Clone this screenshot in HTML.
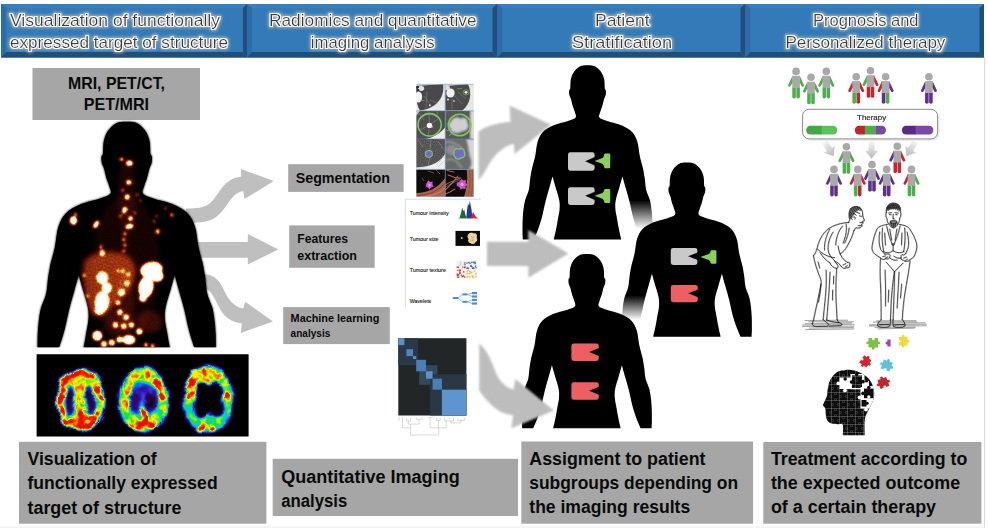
<!DOCTYPE html>
<html><head><meta charset="utf-8"><title>Radiomics workflow</title>
<style>
html,body{margin:0;padding:0;background:#fff;}
body{width:988px;height:531px;overflow:hidden;position:relative;font-family:"Liberation Sans",sans-serif;}
svg{position:absolute;left:0;top:0;display:block;}
text{font-family:"Liberation Sans",sans-serif;}
.lb{font-weight:bold;fill:#0a0a0a;}
.hd{fill:#3a3a3a;}
</style></head><body>
<svg width="988" height="531" viewBox="0 0 988 531">
<defs>
<filter id="glow" x="-10%" y="-40%" width="120%" height="180%">
  <feMorphology in="SourceAlpha" operator="dilate" radius="2" result="d2"/>
  <feGaussianBlur in="d2" stdDeviation="1.6" result="b2"/>
  <feFlood flood-color="#bcc0ba" flood-opacity="0.8"/>
  <feComposite in2="b2" operator="in" result="g2"/>
  <feMorphology in="SourceAlpha" operator="dilate" radius="0.9" result="d1"/>
  <feGaussianBlur in="d1" stdDeviation="0.4" result="b1"/>
  <feFlood flood-color="#ffffff" flood-opacity="1"/>
  <feComposite in2="b1" operator="in" result="g1"/>
  <feMerge><feMergeNode in="g2"/><feMergeNode in="g1"/><feMergeNode in="SourceGraphic"/></feMerge>
</filter>
</defs>
<rect x="0" y="0" width="988" height="531" fill="#ffffff"/>
<!-- frame hairlines -->
<rect x="984" y="57" width="1" height="471" fill="#dadada"/>
<rect x="0" y="526.6" width="985" height="1" fill="#ececec"/>
<!-- HEADERS -->
<g id="headers">
  <!-- h1 -->
  <g>
    <rect x="1" y="4" width="246" height="53.6" fill="#337ab8"/>
    <polygon points="1,4 247,4 243,8 6,8" fill="#3780c0"/>
    <polygon points="1,4 6,8 6,52 1,57.6" fill="#2d6ca8"/>
    <polygon points="247,4 247,57.6 243,52 243,8" fill="#1f4e7a"/>
    <polygon points="1,57.6 6,52 243,52 247,57.6" fill="#1f4e7a"/>
  </g>
  <g>
    <rect x="247" y="4" width="250" height="53.6" fill="#337ab8"/>
    <polygon points="247,4 497,4 493,8 252,8" fill="#3780c0"/>
    <polygon points="247,4 252,8 252,52 247,57.6" fill="#2d6ca8"/>
    <polygon points="497,4 497,57.6 492.5,52 492.5,8" fill="#1f4e7a"/>
    <polygon points="247,57.6 252,52 492.5,52 497,57.6" fill="#1f4e7a"/>
  </g>
  <g>
    <rect x="497" y="4" width="248" height="53.6" fill="#337ab8"/>
    <polygon points="497,4 745,4 741,8 502.5,8" fill="#3780c0"/>
    <polygon points="497,4 502.5,8 502.5,52 497,57.6" fill="#2d6ca8"/>
    <polygon points="745,4 745,57.6 740.5,52 740.5,8" fill="#1f4e7a"/>
    <polygon points="497,57.6 502.5,52 740.5,52 745,57.6" fill="#1f4e7a"/>
  </g>
  <g>
    <rect x="745" y="4" width="239" height="53.6" fill="#337ab8"/>
    <polygon points="745,4 984,4 980,8 750.5,8" fill="#3780c0"/>
    <polygon points="745,4 750.5,8 750.5,52 745,57.6" fill="#2d6ca8"/>
    <polygon points="984,4 984,57.6 979.5,52 979.5,8" fill="#1f4e7a"/>
    <polygon points="745,57.6 750.5,52 979.5,52 984,57.6" fill="#1f4e7a"/>
  </g>
  <g filter="url(#glow)" font-size="15.7">
    <text class="hd" x="10" y="26.1" textLength="210" lengthAdjust="spacingAndGlyphs">Visualization of functionally</text>
    <text class="hd" x="10" y="48.1" textLength="218" lengthAdjust="spacingAndGlyphs">expressed target of structure</text>
    <text class="hd" x="269" y="26.1" textLength="207.5" lengthAdjust="spacingAndGlyphs">Radiomics and quantitative</text>
    <text class="hd" x="310.7" y="48.1" textLength="124" lengthAdjust="spacingAndGlyphs">imaging analysis</text>
    <text class="hd" x="595" y="26.1" textLength="54.5" lengthAdjust="spacingAndGlyphs">Patient</text>
    <text class="hd" x="572" y="48.1" textLength="100" lengthAdjust="spacingAndGlyphs">Stratification</text>
    <text class="hd" x="813" y="26.1" textLength="105.5" lengthAdjust="spacingAndGlyphs">Prognosis and</text>
    <text class="hd" x="785.4" y="48.1" textLength="160" lengthAdjust="spacingAndGlyphs">Personalized therapy</text>
  </g>
</g>
<!-- GRAY LABEL BOXES -->
<g id="labels">
  <rect x="32.5" y="68" width="167.5" height="52" fill="#a6a6a6"/>
  <text class="lb" font-size="15.9" x="68" y="88.6" textLength="97" lengthAdjust="spacingAndGlyphs">MRI, PET/CT,</text>
  <text class="lb" font-size="15.9" x="83.8" y="110" textLength="65.2" lengthAdjust="spacingAndGlyphs">PET/MRI</text>

  <rect x="288.2" y="164.2" width="115.4" height="27.7" fill="#a6a6a6"/>
  <text class="lb" font-size="14.8" x="295.7" y="183.4" textLength="94.3" lengthAdjust="spacingAndGlyphs">Segmentation</text>

  <rect x="289.2" y="225.4" width="85.5" height="42.4" fill="#a6a6a6"/>
  <text class="lb" font-size="12.4" x="297.3" y="242.7" textLength="50.7" lengthAdjust="spacingAndGlyphs">Features</text>
  <text class="lb" font-size="12.4" x="297.3" y="260.1" textLength="59.7" lengthAdjust="spacingAndGlyphs">extraction</text>

  <rect x="283.2" y="307.1" width="106.6" height="37" fill="#a6a6a6"/>
  <text class="lb" font-size="10.7" x="290.6" y="321.9" textLength="88.7" lengthAdjust="spacingAndGlyphs">Machine learning</text>
  <text class="lb" font-size="10.7" x="290.6" y="337" textLength="39.7" lengthAdjust="spacingAndGlyphs">analysis</text>

  <rect x="19" y="441.8" width="247.4" height="81.9" fill="#a6a6a6"/>
  <text class="lb" font-size="17.6" x="27.5" y="464.7" textLength="129.2" lengthAdjust="spacingAndGlyphs">Visualization of</text>
  <text class="lb" font-size="17.6" x="27.5" y="489.1" textLength="190.1" lengthAdjust="spacingAndGlyphs">functionally expressed</text>
  <text class="lb" font-size="17.6" x="27.5" y="513.6" textLength="153.9" lengthAdjust="spacingAndGlyphs">target of structure</text>

  <rect x="272.7" y="458.8" width="245.3" height="57.2" fill="#a6a6a6"/>
  <text class="lb" font-size="17.6" x="281.2" y="482.6" textLength="178.5" lengthAdjust="spacingAndGlyphs">Quantitative Imaging</text>
  <text class="lb" font-size="17.6" x="281.2" y="506.7" textLength="66" lengthAdjust="spacingAndGlyphs">analysis</text>

  <rect x="521.3" y="441.5" width="231.8" height="82.2" fill="#a6a6a6"/>
  <text class="lb" font-size="17.6" x="529.3" y="464.7" textLength="176.2" lengthAdjust="spacingAndGlyphs">Assigment to patient</text>
  <text class="lb" font-size="17.6" x="529.3" y="489.1" textLength="208.8" lengthAdjust="spacingAndGlyphs">subgroups depending on</text>
  <text class="lb" font-size="17.6" x="529.3" y="513.4" textLength="160.9" lengthAdjust="spacingAndGlyphs">the imaging results</text>

  <rect x="763.3" y="442" width="218.1" height="81.7" fill="#a6a6a6"/>
  <text class="lb" font-size="17.6" x="770.9" y="464.7" textLength="196.4" lengthAdjust="spacingAndGlyphs">Treatment according to</text>
  <text class="lb" font-size="17.6" x="770.9" y="489.1" textLength="189.3" lengthAdjust="spacingAndGlyphs">the expected outcome</text>
  <text class="lb" font-size="17.6" x="770.9" y="513.4" textLength="165.2" lengthAdjust="spacingAndGlyphs">of a certain therapy</text>
</g>
<!-- SMALL ARROWS (behind body) -->
<g id="smallarrows" fill="#bfbfbf" filter="url(#soft2)">
  <path d="M186,208.5 C196,208.6 203,208 209,204 C216,199 220,187 229,181 C232.5,178.6 236.5,177.3 241.2,176.6 L241,169 L273.8,181 L244.5,199 L243.4,191.2 C238,192 235.5,194 232,198 C226,205 222,214 213,219 C206,222.6 197,222.8 186,222.8 Z"/>
  <path d="M192,242 L247.8,242 L247.8,234 L278.3,249.4 L247.8,264.6 L247.8,257.8 L192,257.8 Z"/>
  <path d="M196,273.6 C204,273.6 211,274.6 216,278.4 C222,283 224,292 229,299 C232.6,304 236.8,307 243.2,308.6 L245.2,301.8 L273,321.5 L240.8,332.9 L241.8,323.2 C235,322.6 229,320 224.6,315.4 C219,309.6 216,299 211,293 C207,288.4 202,285 196,283.8 Z"/>
</g>
<!-- PET BODY -->
<defs>
<clipPath id="bodyclip"><path d="M587.5,65.3C589.9,65.3 592.5,65.2 594.7,66.2C596.9,67.2 599.3,69.4 600.8,71.5C602.4,73.6 603.4,76.2 604.1,79.0C604.8,81.8 604.5,86.6 604.8,88.5C605.1,90.4 605.7,89.2 605.8,90.2C606.0,91.2 606.0,93.3 605.7,94.8C605.5,96.3 604.7,97.1 604.1,99.0C603.5,100.9 602.9,103.8 602.3,106.0C601.6,108.2 600.7,110.1 600.2,112.0C599.7,113.9 598.3,116.0 599.4,117.5C600.5,119.0 603.2,119.7 607.0,121.0C610.8,122.3 617.9,123.7 622.0,125.5C626.2,127.3 629.5,129.3 632.1,132.0C634.6,134.7 636.0,137.5 637.3,141.5C638.6,145.5 638.9,151.6 639.8,156.0C640.7,160.4 642.0,164.3 642.9,168.0C643.7,171.7 644.1,174.3 644.7,178.0C645.3,181.7 645.3,186.2 646.2,190.0C647.1,193.8 649.1,197.0 650.0,200.5C650.9,204.0 651.3,207.6 651.7,211.0C652.1,214.4 652.2,217.5 652.4,221.0C652.5,224.5 652.5,228.9 652.5,232.0C652.5,235.1 652.2,238.2 652.2,239.4C650.3,239.4 643.0,239.4 641.1,239.4C640.4,237.7 638.2,232.7 636.8,229.0C635.5,225.3 634.2,221.5 633.0,217.0C631.8,212.5 630.8,206.8 629.6,202.0C628.4,197.2 626.9,192.2 625.7,188.0C624.5,183.8 623.0,178.4 622.5,176.5C622.0,178.2 620.6,183.1 619.5,187.0C618.4,190.9 616.5,196.3 615.8,200.0C615.1,203.7 615.2,206.0 615.4,209.0C615.6,212.0 616.3,214.7 616.9,218.0C617.5,221.3 618.1,225.4 618.9,229.0C619.6,232.6 620.8,237.7 621.2,239.4C610.0,239.4 565.0,239.4 553.8,239.4C554.2,237.7 555.4,232.6 556.1,229.0C556.9,225.4 557.5,221.3 558.1,218.0C558.7,214.7 559.4,212.0 559.6,209.0C559.8,206.0 559.9,203.7 559.2,200.0C558.5,196.3 556.6,190.9 555.5,187.0C554.4,183.1 553.0,178.2 552.5,176.5C552.0,178.4 550.5,183.8 549.3,188.0C548.1,192.2 546.6,197.2 545.4,202.0C544.2,206.8 543.2,212.5 542.0,217.0C540.8,221.5 539.5,225.3 538.2,229.0C536.8,232.7 534.6,237.7 533.9,239.4C532.0,239.4 524.7,239.4 522.8,239.4C522.8,238.2 522.5,235.1 522.5,232.0C522.5,228.9 522.5,224.5 522.6,221.0C522.8,217.5 522.9,214.4 523.3,211.0C523.7,207.6 524.1,204.0 525.0,200.5C525.9,197.0 527.9,193.8 528.8,190.0C529.7,186.2 529.7,181.7 530.3,178.0C530.9,174.3 531.3,171.7 532.1,168.0C533.0,164.3 534.3,160.4 535.2,156.0C536.1,151.6 536.4,145.5 537.7,141.5C539.0,137.5 540.4,134.7 542.9,132.0C545.5,129.3 548.8,127.3 553.0,125.5C557.1,123.7 564.2,122.3 568.0,121.0C571.8,119.7 574.5,119.0 575.6,117.5C576.7,116.0 575.3,113.9 574.8,112.0C574.3,110.1 573.4,108.2 572.7,106.0C572.1,103.8 571.5,100.9 570.9,99.0C570.3,97.1 569.5,96.3 569.3,94.8C569.0,93.3 569.0,91.2 569.2,90.2C569.3,89.2 569.9,90.4 570.2,88.5C570.5,86.6 570.2,81.8 570.9,79.0C571.6,76.2 572.6,73.6 574.2,71.5C575.7,69.4 578.1,67.2 580.3,66.2C582.5,65.2 585.1,65.3 587.5,65.3Z" transform="translate(-679.35,31.82) scale(1.372,1.378)"/></clipPath>
<clipPath id="bodycut"><rect x="20" y="100" width="230" height="247.2"/></clipPath>
<filter id="hot" x="0" y="0" width="100%" height="100%" color-interpolation-filters="sRGB" filterUnits="userSpaceOnUse" primitiveUnits="userSpaceOnUse">
 <feGaussianBlur stdDeviation="0.9" result="b"/>
 <feTurbulence type="fractalNoise" baseFrequency="0.55" numOctaves="2" seed="7" result="n"/>
 <feColorMatrix in="n" type="matrix" values="1.6 0 0 0 -0.25  1.6 0 0 0 -0.25  1.6 0 0 0 -0.25  0 0 0 0 1" result="na"/>
 <feComposite in="b" in2="na" operator="arithmetic" k1="0.5" k2="0.98" k3="0" k4="0" result="t"/>
 <feColorMatrix in="t" type="matrix" values="1 0 0 0 0  1 0 0 0 0  1 0 0 0 0  0 0 0 0 1" result="m"/>
 <feComponentTransfer in="m">
  <feFuncR type="table" tableValues="0 0.36 0.66 0.95 1 1"/>
  <feFuncG type="table" tableValues="0 0.07 0.22 0.55 0.9 1"/>
  <feFuncB type="table" tableValues="0 0.03 0.07 0.14 0.5 1"/>
 </feComponentTransfer>
</filter>
<filter id="hz" x="-20%" y="-20%" width="140%" height="140%"><feGaussianBlur stdDeviation="2.2"/></filter>
</defs>
<g clip-path="url(#bodycut)">
<path d="M587.5,65.3C589.9,65.3 592.5,65.2 594.7,66.2C596.9,67.2 599.3,69.4 600.8,71.5C602.4,73.6 603.4,76.2 604.1,79.0C604.8,81.8 604.5,86.6 604.8,88.5C605.1,90.4 605.7,89.2 605.8,90.2C606.0,91.2 606.0,93.3 605.7,94.8C605.5,96.3 604.7,97.1 604.1,99.0C603.5,100.9 602.9,103.8 602.3,106.0C601.6,108.2 600.7,110.1 600.2,112.0C599.7,113.9 598.3,116.0 599.4,117.5C600.5,119.0 603.2,119.7 607.0,121.0C610.8,122.3 617.9,123.7 622.0,125.5C626.2,127.3 629.5,129.3 632.1,132.0C634.6,134.7 636.0,137.5 637.3,141.5C638.6,145.5 638.9,151.6 639.8,156.0C640.7,160.4 642.0,164.3 642.9,168.0C643.7,171.7 644.1,174.3 644.7,178.0C645.3,181.7 645.3,186.2 646.2,190.0C647.1,193.8 649.1,197.0 650.0,200.5C650.9,204.0 651.3,207.6 651.7,211.0C652.1,214.4 652.2,217.5 652.4,221.0C652.5,224.5 652.5,228.9 652.5,232.0C652.5,235.1 652.2,238.2 652.2,239.4C650.3,239.4 643.0,239.4 641.1,239.4C640.4,237.7 638.2,232.7 636.8,229.0C635.5,225.3 634.2,221.5 633.0,217.0C631.8,212.5 630.8,206.8 629.6,202.0C628.4,197.2 626.9,192.2 625.7,188.0C624.5,183.8 623.0,178.4 622.5,176.5C622.0,178.2 620.6,183.1 619.5,187.0C618.4,190.9 616.5,196.3 615.8,200.0C615.1,203.7 615.2,206.0 615.4,209.0C615.6,212.0 616.3,214.7 616.9,218.0C617.5,221.3 618.1,225.4 618.9,229.0C619.6,232.6 620.8,237.7 621.2,239.4C610.0,239.4 565.0,239.4 553.8,239.4C554.2,237.7 555.4,232.6 556.1,229.0C556.9,225.4 557.5,221.3 558.1,218.0C558.7,214.7 559.4,212.0 559.6,209.0C559.8,206.0 559.9,203.7 559.2,200.0C558.5,196.3 556.6,190.9 555.5,187.0C554.4,183.1 553.0,178.2 552.5,176.5C552.0,178.4 550.5,183.8 549.3,188.0C548.1,192.2 546.6,197.2 545.4,202.0C544.2,206.8 543.2,212.5 542.0,217.0C540.8,221.5 539.5,225.3 538.2,229.0C536.8,232.7 534.6,237.7 533.9,239.4C532.0,239.4 524.7,239.4 522.8,239.4C522.8,238.2 522.5,235.1 522.5,232.0C522.5,228.9 522.5,224.5 522.6,221.0C522.8,217.5 522.9,214.4 523.3,211.0C523.7,207.6 524.1,204.0 525.0,200.5C525.9,197.0 527.9,193.8 528.8,190.0C529.7,186.2 529.7,181.7 530.3,178.0C530.9,174.3 531.3,171.7 532.1,168.0C533.0,164.3 534.3,160.4 535.2,156.0C536.1,151.6 536.4,145.5 537.7,141.5C539.0,137.5 540.4,134.7 542.9,132.0C545.5,129.3 548.8,127.3 553.0,125.5C557.1,123.7 564.2,122.3 568.0,121.0C571.8,119.7 574.5,119.0 575.6,117.5C576.7,116.0 575.3,113.9 574.8,112.0C574.3,110.1 573.4,108.2 572.7,106.0C572.1,103.8 571.5,100.9 570.9,99.0C570.3,97.1 569.5,96.3 569.3,94.8C569.0,93.3 569.0,91.2 569.2,90.2C569.3,89.2 569.9,90.4 570.2,88.5C570.5,86.6 570.2,81.8 570.9,79.0C571.6,76.2 572.6,73.6 574.2,71.5C575.7,69.4 578.1,67.2 580.3,66.2C582.5,65.2 585.1,65.3 587.5,65.3Z" transform="translate(-679.35,31.82) scale(1.372,1.378)" fill="#050303" filter="url(#soft2)"/>
<g clip-path="url(#bodyclip)"><g filter="url(#hot)">
<rect x="20" y="100" width="230" height="260" fill="#000"/>
<g filter="url(#hz)">
<ellipse cx="126" cy="265" rx="34" ry="70" fill="#fff" opacity="0.035"/>
<ellipse cx="127" cy="195" rx="9" ry="38" fill="#fff" opacity="0.05"/>
<path d="M84,262 C90,252 110,250 124,254 C134,258 138,268 134,280 C130,292 118,300 108,312 C100,320 92,318 88,306 C84,292 82,274 84,262Z" fill="#fff" opacity="0.27"/>
<ellipse cx="150" cy="322" rx="13" ry="11" fill="#fff" opacity="0.1"/>
<ellipse cx="118" cy="324" rx="15" ry="13" fill="#fff" opacity="0.08"/>
<ellipse cx="126" cy="300" rx="8" ry="30" fill="#fff" opacity="0.07"/>
</g>
<ellipse cx="121.5" cy="159.3" rx="2.3" ry="2.2" fill="#fff" opacity="0.24"/>
<ellipse cx="121.5" cy="159.3" rx="1.4" ry="1.3" fill="#fff" opacity="0.73"/>
<ellipse cx="129.4" cy="163.2" rx="3.7" ry="3.1" fill="#fff" opacity="0.32"/>
<ellipse cx="129.4" cy="163.2" rx="2.8" ry="2.2" fill="#fff" opacity="0.97"/>
<ellipse cx="128.8" cy="182.3" rx="3.0" ry="2.8" fill="#fff" opacity="0.32"/>
<ellipse cx="128.8" cy="182.3" rx="2.1" ry="1.9" fill="#fff" opacity="0.97"/>
<ellipse cx="122.7" cy="190.2" rx="1.9" ry="1.9" fill="#fff" opacity="0.18"/>
<ellipse cx="122.7" cy="190.2" rx="1.0" ry="1.0" fill="#fff" opacity="0.53"/>
<ellipse cx="127.2" cy="197" rx="2.8" ry="3.1" fill="#fff" opacity="0.32"/>
<ellipse cx="127.2" cy="197" rx="1.9" ry="2.2" fill="#fff" opacity="0.97"/>
<ellipse cx="137.3" cy="194.7" rx="1.9" ry="1.9" fill="#fff" opacity="0.13"/>
<ellipse cx="137.3" cy="194.7" rx="1.0" ry="1.0" fill="#fff" opacity="0.39"/>
<ellipse cx="140.7" cy="200.4" rx="1.8" ry="1.8" fill="#fff" opacity="0.11"/>
<ellipse cx="140.7" cy="200.4" rx="0.9" ry="0.9" fill="#fff" opacity="0.34"/>
<ellipse cx="124.9" cy="209.4" rx="2.9" ry="2.9" fill="#fff" opacity="0.32"/>
<ellipse cx="124.9" cy="209.4" rx="2.0" ry="2.0" fill="#fff" opacity="0.97"/>
<ellipse cx="120.4" cy="216.2" rx="2.0" ry="2.0" fill="#fff" opacity="0.16"/>
<ellipse cx="120.4" cy="216.2" rx="1.1" ry="1.1" fill="#fff" opacity="0.48"/>
<ellipse cx="130.6" cy="218.5" rx="2.6" ry="2.8" fill="#fff" opacity="0.32"/>
<ellipse cx="130.6" cy="218.5" rx="1.7" ry="1.9" fill="#fff" opacity="0.97"/>
<ellipse cx="135" cy="212.8" rx="1.9" ry="1.9" fill="#fff" opacity="0.14"/>
<ellipse cx="135" cy="212.8" rx="1.0" ry="1.0" fill="#fff" opacity="0.44"/>
<ellipse cx="129.4" cy="226.4" rx="4.5" ry="2.8" fill="#fff" opacity="0.32" transform="rotate(-15 129.4 226.4)"/>
<ellipse cx="129.4" cy="226.4" rx="3.6" ry="1.9" fill="#fff" opacity="0.97" transform="rotate(-15 129.4 226.4)"/>
<ellipse cx="73.5" cy="220.5" rx="4.0" ry="4.7" fill="#fff" opacity="0.32"/>
<ellipse cx="73.5" cy="220.5" rx="3.1" ry="3.8" fill="#fff" opacity="0.97"/>
<ellipse cx="75.5" cy="214.5" rx="1.9" ry="2.2" fill="#fff" opacity="0.22"/>
<ellipse cx="75.5" cy="214.5" rx="1.0" ry="1.3" fill="#fff" opacity="0.68"/>
<ellipse cx="96.2" cy="224.4" rx="2.6" ry="4.5" fill="#fff" opacity="0.32" transform="rotate(35 96.2 224.4)"/>
<ellipse cx="96.2" cy="224.4" rx="1.7" ry="3.6" fill="#fff" opacity="0.97" transform="rotate(35 96.2 224.4)"/>
<ellipse cx="165.6" cy="208.3" rx="1.9" ry="1.9" fill="#fff" opacity="0.11"/>
<ellipse cx="165.6" cy="208.3" rx="1.0" ry="1.0" fill="#fff" opacity="0.34"/>
<ellipse cx="171.9" cy="215" rx="2.3" ry="2.3" fill="#fff" opacity="0.18"/>
<ellipse cx="171.9" cy="215" rx="1.4" ry="1.4" fill="#fff" opacity="0.53"/>
<ellipse cx="156.6" cy="216.2" rx="1.9" ry="1.9" fill="#fff" opacity="0.11"/>
<ellipse cx="156.6" cy="216.2" rx="1.0" ry="1.0" fill="#fff" opacity="0.34"/>
<ellipse cx="154.3" cy="221.3" rx="1.9" ry="1.9" fill="#fff" opacity="0.13"/>
<ellipse cx="154.3" cy="221.3" rx="1.0" ry="1.0" fill="#fff" opacity="0.39"/>
<ellipse cx="157.7" cy="231.5" rx="2.6" ry="3.0" fill="#fff" opacity="0.22"/>
<ellipse cx="157.7" cy="231.5" rx="1.7" ry="2.1" fill="#fff" opacity="0.68"/>
<ellipse cx="123.8" cy="212.3" rx="2.2" ry="2.2" fill="#fff" opacity="0.22"/>
<ellipse cx="123.8" cy="212.3" rx="1.3" ry="1.3" fill="#fff" opacity="0.68"/>
<ellipse cx="124.9" cy="233.7" rx="2.2" ry="2.4" fill="#fff" opacity="0.19"/>
<ellipse cx="124.9" cy="233.7" rx="1.3" ry="1.5" fill="#fff" opacity="0.58"/>
<ellipse cx="123.8" cy="239.4" rx="2.2" ry="2.4" fill="#fff" opacity="0.19"/>
<ellipse cx="123.8" cy="239.4" rx="1.3" ry="1.5" fill="#fff" opacity="0.58"/>
<ellipse cx="124.9" cy="245" rx="2.2" ry="2.4" fill="#fff" opacity="0.18"/>
<ellipse cx="124.9" cy="245" rx="1.3" ry="1.5" fill="#fff" opacity="0.53"/>
<ellipse cx="123.8" cy="250.7" rx="2.1" ry="2.3" fill="#fff" opacity="0.16"/>
<ellipse cx="123.8" cy="250.7" rx="1.2" ry="1.4" fill="#fff" opacity="0.48"/>
<ellipse cx="102.3" cy="252.9" rx="3.0" ry="3.3" fill="#fff" opacity="0.3"/>
<ellipse cx="102.3" cy="252.9" rx="2.1" ry="2.4" fill="#fff" opacity="0.92"/>
<ellipse cx="101" cy="247" rx="1.9" ry="2.6" fill="#fff" opacity="0.19"/>
<ellipse cx="101" cy="247" rx="1.0" ry="1.7" fill="#fff" opacity="0.58"/>
<ellipse cx="151.5" cy="270" rx="11.7" ry="8.6" fill="#fff" opacity="0.32" transform="rotate(-10 151.5 270)"/>
<ellipse cx="151.5" cy="270" rx="10.8" ry="7.7" fill="#fff" opacity="0.97" transform="rotate(-10 151.5 270)"/>
<ellipse cx="146" cy="287" rx="7.8" ry="11.7" fill="#fff" opacity="0.32" transform="rotate(10 146 287)"/>
<ellipse cx="146" cy="287" rx="6.9" ry="10.8" fill="#fff" opacity="0.97" transform="rotate(10 146 287)"/>
<ellipse cx="143" cy="298" rx="4.3" ry="4.3" fill="#fff" opacity="0.29"/>
<ellipse cx="143" cy="298" rx="3.4" ry="3.4" fill="#fff" opacity="0.87"/>
<ellipse cx="157" cy="276" rx="6.9" ry="6.1" fill="#fff" opacity="0.32"/>
<ellipse cx="157" cy="276" rx="6.0" ry="5.2" fill="#fff" opacity="0.97"/>
<ellipse cx="102.3" cy="277.8" rx="6.1" ry="6.5" fill="#fff" opacity="0.32"/>
<ellipse cx="102.3" cy="277.8" rx="5.2" ry="5.6" fill="#fff" opacity="0.97"/>
<ellipse cx="106.8" cy="288" rx="5.2" ry="5.6" fill="#fff" opacity="0.32"/>
<ellipse cx="106.8" cy="288" rx="4.3" ry="4.7" fill="#fff" opacity="0.97"/>
<ellipse cx="102" cy="302" rx="7.4" ry="11.2" fill="#fff" opacity="0.32" transform="rotate(5 102 302)"/>
<ellipse cx="102" cy="302" rx="6.5" ry="10.3" fill="#fff" opacity="0.97" transform="rotate(5 102 302)"/>
<ellipse cx="99.5" cy="310" rx="5.2" ry="5.2" fill="#fff" opacity="0.32"/>
<ellipse cx="99.5" cy="310" rx="4.3" ry="4.3" fill="#fff" opacity="0.97"/>
<ellipse cx="122.7" cy="271" rx="2.3" ry="2.3" fill="#fff" opacity="0.26"/>
<ellipse cx="122.7" cy="271" rx="1.4" ry="1.4" fill="#fff" opacity="0.78"/>
<ellipse cx="128.3" cy="274.4" rx="2.3" ry="2.3" fill="#fff" opacity="0.26"/>
<ellipse cx="128.3" cy="274.4" rx="1.4" ry="1.4" fill="#fff" opacity="0.78"/>
<ellipse cx="118" cy="271" rx="2.1" ry="2.1" fill="#fff" opacity="0.19"/>
<ellipse cx="118" cy="271" rx="1.2" ry="1.2" fill="#fff" opacity="0.58"/>
<ellipse cx="127.2" cy="283.4" rx="2.8" ry="2.8" fill="#fff" opacity="0.3"/>
<ellipse cx="127.2" cy="283.4" rx="1.9" ry="1.9" fill="#fff" opacity="0.92"/>
<ellipse cx="121.5" cy="292.5" rx="3.7" ry="3.7" fill="#fff" opacity="0.32"/>
<ellipse cx="121.5" cy="292.5" rx="2.8" ry="2.8" fill="#fff" opacity="0.97"/>
<ellipse cx="84.2" cy="275.5" rx="2.1" ry="2.3" fill="#fff" opacity="0.19"/>
<ellipse cx="84.2" cy="275.5" rx="1.2" ry="1.4" fill="#fff" opacity="0.58"/>
<ellipse cx="87.6" cy="295.9" rx="2.0" ry="2.2" fill="#fff" opacity="0.18"/>
<ellipse cx="87.6" cy="295.9" rx="1.1" ry="1.3" fill="#fff" opacity="0.53"/>
<ellipse cx="118.1" cy="302.7" rx="2.8" ry="2.8" fill="#fff" opacity="0.29"/>
<ellipse cx="118.1" cy="302.7" rx="1.9" ry="1.9" fill="#fff" opacity="0.87"/>
<ellipse cx="119.9" cy="312.2" rx="3.1" ry="3.1" fill="#fff" opacity="0.32"/>
<ellipse cx="119.9" cy="312.2" rx="2.2" ry="2.2" fill="#fff" opacity="0.97"/>
<ellipse cx="126.1" cy="317.2" rx="3.1" ry="3.1" fill="#fff" opacity="0.32"/>
<ellipse cx="126.1" cy="317.2" rx="2.2" ry="2.2" fill="#fff" opacity="0.97"/>
<ellipse cx="115.5" cy="325" rx="3.1" ry="3.3" fill="#fff" opacity="0.32"/>
<ellipse cx="115.5" cy="325" rx="2.2" ry="2.4" fill="#fff" opacity="0.97"/>
<ellipse cx="123.7" cy="326.2" rx="3.1" ry="3.1" fill="#fff" opacity="0.32"/>
<ellipse cx="123.7" cy="326.2" rx="2.2" ry="2.2" fill="#fff" opacity="0.97"/>
<ellipse cx="131.5" cy="325" rx="3.1" ry="3.1" fill="#fff" opacity="0.32"/>
<ellipse cx="131.5" cy="325" rx="2.2" ry="2.2" fill="#fff" opacity="0.97"/>
<ellipse cx="139.3" cy="331.5" rx="3.5" ry="3.5" fill="#fff" opacity="0.32"/>
<ellipse cx="139.3" cy="331.5" rx="2.6" ry="2.6" fill="#fff" opacity="0.97"/>
<ellipse cx="97.3" cy="335.8" rx="5.4" ry="5.4" fill="#fff" opacity="0.32"/>
<ellipse cx="97.3" cy="335.8" rx="4.5" ry="4.5" fill="#fff" opacity="0.97"/>
<ellipse cx="128.9" cy="339.8" rx="6.9" ry="5.2" fill="#fff" opacity="0.32"/>
<ellipse cx="128.9" cy="339.8" rx="6.0" ry="4.3" fill="#fff" opacity="0.97"/>
<ellipse cx="119.7" cy="339.6" rx="3.5" ry="3.5" fill="#fff" opacity="0.32"/>
<ellipse cx="119.7" cy="339.6" rx="2.6" ry="2.6" fill="#fff" opacity="0.97"/>
<ellipse cx="111.8" cy="342.5" rx="3.5" ry="3.5" fill="#fff" opacity="0.3"/>
<ellipse cx="111.8" cy="342.5" rx="2.6" ry="2.6" fill="#fff" opacity="0.92"/>
<ellipse cx="146" cy="344.8" rx="2.4" ry="2.4" fill="#fff" opacity="0.26"/>
<ellipse cx="146" cy="344.8" rx="1.5" ry="1.5" fill="#fff" opacity="0.78"/>
<ellipse cx="152.7" cy="346" rx="2.4" ry="2.4" fill="#fff" opacity="0.26"/>
<ellipse cx="152.7" cy="346" rx="1.5" ry="1.5" fill="#fff" opacity="0.78"/>
<ellipse cx="104" cy="344" rx="3.5" ry="3.5" fill="#fff" opacity="0.29"/>
<ellipse cx="104" cy="344" rx="2.6" ry="2.6" fill="#fff" opacity="0.87"/>
</g></g></g>
<!-- BRAIN PET -->
<defs><filter id="rainbow" x="30" y="348" width="226" height="96" color-interpolation-filters="sRGB" filterUnits="userSpaceOnUse">
 <feGaussianBlur stdDeviation="1.55" result="b"/>
 <feTurbulence type="fractalNoise" baseFrequency="0.075" numOctaves="1" seed="4" result="n0"/>
 <feDisplacementMap in="b" in2="n0" scale="7" xChannelSelector="R" yChannelSelector="G" result="dsp"/>
 <feTurbulence type="fractalNoise" baseFrequency="0.14" numOctaves="2" seed="11" result="n"/>
 <feColorMatrix in="n" type="matrix" values="0 0 2.4 0 -0.7  0 0 2.4 0 -0.7  0 0 2.4 0 -0.7  0 0 0 0 1" result="na"/>
 <feComposite in="dsp" in2="na" operator="arithmetic" k1="0.5" k2="0.78" k3="0" k4="0" result="t"/>
 <feColorMatrix in="t" type="matrix" values="1 0 0 0 0  1 0 0 0 0  1 0 0 0 0  0 0 0 0 1" result="m"/>
 <feComponentTransfer in="m">
  <feFuncR type="table" tableValues="0 0.20 0.22 0.05 0.0 0.05 0.55 1 1 1 0.92"/>
  <feFuncG type="table" tableValues="0 0.0 0.10 0.40 0.80 0.88 0.95 0.95 0.6 0.18 0.05"/>
  <feFuncB type="table" tableValues="0 0.30 0.75 1 0.9 0.30 0.08 0 0 0 0.05"/>
 </feComponentTransfer>
 <feGaussianBlur stdDeviation="0.5"/>
</filter>
<clipPath id="brainbox"><rect x="36.6" y="354.2" width="212" height="82.3"/></clipPath></defs>
<g clip-path="url(#brainbox)"><g filter="url(#rainbow)">
<rect x="30" y="348" width="226" height="96" fill="#000"/>
<path d="M80.7,368.5 C93,368.5 104.5,382 104.8,400 C105,417 95,431 80.7,431 C66,431 56.5,417 56.8,400 C57,382 68,368.5 80.7,368.5Z" fill="#ededed"/>
<ellipse cx="80.7" cy="399.5" rx="19" ry="25" fill="#b8b8b8"/>
<ellipse cx="70.5" cy="401" rx="5.8" ry="15.5" fill="#292929" transform="rotate(4 70.5 401)"/>
<ellipse cx="90" cy="401" rx="5.8" ry="15.5" fill="#292929" transform="rotate(-4 90 401)"/>
<ellipse cx="70.5" cy="401" rx="3" ry="10" fill="#121212" transform="rotate(4 70.5 401)"/>
<ellipse cx="90" cy="401" rx="3" ry="10" fill="#121212" transform="rotate(-4 90 401)"/>
<ellipse cx="80.5" cy="412" rx="2.6" ry="14" fill="#ffffff"/>
<ellipse cx="80.5" cy="382" rx="1.6" ry="9" fill="#9e9e9e"/>
<ellipse cx="99.5" cy="405" rx="3.5" ry="6" fill="#8c8c8c"/>
<ellipse cx="62" cy="398" rx="2" ry="5" fill="#fafafa"/>
<ellipse cx="97" cy="385" rx="3" ry="6" fill="#ffffff"/>
<ellipse cx="64" cy="382" rx="3.5" ry="5" fill="#ffffff"/>
<ellipse cx="70" cy="422" rx="6" ry="4" fill="#ffffff"/>
<ellipse cx="92" cy="421" rx="6" ry="4" fill="#fafafa"/>
<ellipse cx="80.5" cy="406" rx="1.1" ry="2.6" fill="#000000"/>
<ellipse cx="63.5" cy="382" rx="1" ry="1" fill="#000000"/>
<ellipse cx="94.6" cy="378.5" rx="0.9" ry="0.9" fill="#000000"/>
<ellipse cx="95.5" cy="388" rx="0.9" ry="0.9" fill="#000000"/>
<path d="M143.5,367.5 C156,367.5 167.6,381 167.9,400 C168,418 158,432 143.5,432 C129,432 119,418 119.2,400 C119.4,381 131,367.5 143.5,367.5Z" fill="#a8a8a8"/>
<ellipse cx="143.5" cy="400" rx="15" ry="20" fill="#4c4c4c"/>
<ellipse cx="135.5" cy="400" rx="5.5" ry="11" fill="#1f1f1f"/>
<ellipse cx="151" cy="400" rx="5.5" ry="11" fill="#1a1a1a"/>
<ellipse cx="143.5" cy="392" rx="9" ry="5" fill="#333333"/>
<ellipse cx="150.2" cy="401" rx="1.8" ry="6.5" fill="#000000" transform="rotate(-8 150.2 401)"/>
<ellipse cx="143.3" cy="418" rx="4" ry="11" fill="#f7f7f7"/>
<ellipse cx="136" cy="426" rx="5" ry="3.2" fill="#f2f2f2"/>
<ellipse cx="152" cy="425" rx="5" ry="3.2" fill="#ebebeb"/>
<ellipse cx="157.5" cy="385" rx="3.2" ry="8" fill="#f7f7f7" transform="rotate(-25 157.5 385)"/>
<ellipse cx="162" cy="398" rx="2.5" ry="4" fill="#f2f2f2" transform="rotate(-10 162 398)"/>
<ellipse cx="125.5" cy="392" rx="2.4" ry="5" fill="#f2f2f2" transform="rotate(10 125.5 392)"/>
<ellipse cx="132" cy="378" rx="3.5" ry="2.2" fill="#ebebeb" transform="rotate(-30 132 378)"/>
<ellipse cx="128" cy="405" rx="2.5" ry="6" fill="#d9d9d9"/>
<ellipse cx="143.5" cy="377" rx="2" ry="6" fill="#737373"/>
<ellipse cx="148" cy="374" rx="3" ry="3" fill="#bfbfbf"/>
<ellipse cx="139" cy="374" rx="3" ry="3" fill="#bfbfbf"/>
<ellipse cx="160" cy="412" rx="4" ry="6" fill="#8c8c8c"/>
<ellipse cx="126" cy="416" rx="3.5" ry="5" fill="#737373"/>
<path d="M208.3,366 C221,366 232.8,380 233,399.5 C233.2,418 223,432.5 208.3,432.5 C193.5,432.5 183.4,418 183.6,399.5 C183.8,380 195.5,366 208.3,366Z" fill="#808080"/>
<ellipse cx="208.3" cy="388" rx="21" ry="18" fill="#adadad"/>
<ellipse cx="190" cy="388" rx="3.4" ry="12" fill="#f7f7f7" transform="rotate(8 190 388)"/>
<ellipse cx="196" cy="373.5" rx="5" ry="2.6" fill="#f2f2f2" transform="rotate(-30 196 373.5)"/>
<ellipse cx="205" cy="371" rx="2.2" ry="4" fill="#ebebeb"/>
<ellipse cx="212" cy="371" rx="2.2" ry="4" fill="#e6e6e6"/>
<ellipse cx="228.5" cy="396" rx="2.6" ry="5" fill="#f2f2f2" transform="rotate(-10 228.5 396)"/>
<ellipse cx="226" cy="380" rx="3" ry="5" fill="#999999" transform="rotate(-25 226 380)"/>
<ellipse cx="229.5" cy="410" rx="2.5" ry="6" fill="#8c8c8c"/>
<ellipse cx="201.5" cy="428" rx="3.6" ry="3" fill="#fafafa"/>
<ellipse cx="212.8" cy="428" rx="3.6" ry="3" fill="#fafafa"/>
<ellipse cx="189" cy="412" rx="3" ry="7" fill="#666666" transform="rotate(15 189 412)"/>
<path d="M197,383 C200,380.5 205,381.5 208.5,385.5 C212,381.5 218,380.5 221.5,383.5 C225.5,388 224.5,395 222.5,400 C225.5,406 225,413 221,417 C217,420 212,417.5 209,411 C206,417.5 201,420.5 197,417.5 C192.5,413 193,405 196,400 C193.5,394 193.5,387.5 197,383Z" fill="#000" stroke="#000" stroke-width="1.2" transform="translate(209 400) scale(0.93 0.95) translate(-209 -400)"/>
</g></g>
<!-- SEGMENTATION IMAGE GRID -->
<defs>
<filter id="ctn" x="0" y="0" width="100%" height="100%"><feTurbulence type="fractalNoise" baseFrequency="0.9" numOctaves="2" seed="3" result="n"/><feColorMatrix in="n" type="matrix" values="0 0 0 0 0.5  0 0 0 0 0.5  0 0 0 0 0.5  0 0 0 0.9 -0.25" result="g"/><feComposite in="g" in2="SourceGraphic" operator="in"/></filter>
<filter id="b1" x="-20%" y="-20%" width="140%" height="140%"><feGaussianBlur stdDeviation="0.8"/></filter>
<filter id="b05" x="-20%" y="-20%" width="140%" height="140%"><feGaussianBlur stdDeviation="0.6"/></filter>
<filter id="b2" x="-30%" y="-30%" width="160%" height="160%"><feGaussianBlur stdDeviation="1.8"/></filter>
<clipPath id="cc00"><rect x="416.2" y="84.3" width="29.0" height="26.5"/></clipPath>
<clipPath id="cc01"><rect x="445.2" y="84.3" width="28.5" height="26.5"/></clipPath>
<clipPath id="cc10"><rect x="416.2" y="110.8" width="29.0" height="28.1"/></clipPath>
<clipPath id="cc11"><rect x="445.2" y="110.8" width="28.5" height="28.1"/></clipPath>
<clipPath id="cc20"><rect x="416.2" y="138.9" width="29.0" height="30.5"/></clipPath>
<clipPath id="cc21"><rect x="445.2" y="138.9" width="28.5" height="30.5"/></clipPath>
<clipPath id="cc30"><rect x="416.2" y="169.4" width="29.0" height="27.4"/></clipPath>
<clipPath id="cc31"><rect x="445.2" y="169.4" width="28.5" height="27.4"/></clipPath>
</defs>
<rect x="414.7" y="82.3" width="63.5" height="116.50000000000001" fill="#fff"/>
<g clip-path="url(#cc00)" filter="url(#b05)">
<rect x="416.2" y="84.3" width="30" height="27" fill="#e9e9e9"/>
<path d="M416,86 L443,84 C445,96 438,108 420,110.5 C417,106 416,100 416,86Z" fill="#4a4a4a"/>
<ellipse cx="418.5" cy="97" rx="3.6" ry="5.5" fill="#f2f2f2"/><ellipse cx="421" cy="88.5" rx="3.2" ry="2.4" fill="#e4e4e4"/><circle cx="417.5" cy="87.2" r="1.4" fill="#222"/><circle cx="418.3" cy="90" r="1.1" fill="#222"/>
<path d="M424,96 L430,104 M427,92 L426,108 M430,100 L437,103" stroke="#8a8a8a" stroke-width="0.5" fill="none"/><circle cx="429.8" cy="105.3" r="1" fill="#ddd"/>
<path d="M420,100.3 L424.5,100.8" stroke="#79c95c" stroke-width="0.6"/>
</g>
<g clip-path="url(#cc01)" filter="url(#b05)">
<rect x="445.2" y="84.3" width="30" height="27" fill="#e6e6e6"/>
<path d="M445.2,86 L468,84.3 C472,92 471,104 462,110.8 L445.2,110.8Z" fill="#4c4c4c"/>
<ellipse cx="450.5" cy="93" rx="4.2" ry="4.6" fill="#f0f0f0"/><ellipse cx="447" cy="88" rx="3" ry="2.5" fill="#e0e0e0"/><circle cx="448" cy="99.5" r="1.1" fill="#ccc"/><circle cx="454" cy="101" r="0.9" fill="#bbb"/>
<path d="M455,96 L462,104 M452,99 L452,110 M458,92 L466,99" stroke="#858585" stroke-width="0.5" fill="none"/>
<circle cx="466" cy="92.3" r="1.4" fill="#f4f4f4"/><ellipse cx="466" cy="92.3" rx="3" ry="2.6" fill="none" stroke="#79c95c" stroke-width="0.6"/><path d="M457,88.8 L462,88.5" stroke="#79c95c" stroke-width="0.5"/>
</g>
<g clip-path="url(#cc10)" filter="url(#b05)">
<rect x="416.2" y="110.8" width="30" height="29" fill="#505050"/>
<path d="M445.5,127 C440,134 432,138 424,139.5 L446,139.5Z" fill="#eee"/><path d="M416,111 L420,111 L416,116Z" fill="#ccc"/>
<path d="M429.5,125 L429,112 M429.5,125 L438,119 M429.5,125 L428,138 M429.5,125 L420,130 M418,112 L424,120 M438,112 L436,117" stroke="#8c8c8c" stroke-width="0.55" fill="none"/>
<circle cx="429.5" cy="125.4" r="2.7" fill="#fafafa"/><path d="M431,127 L433.5,127.5 L431.5,125.5Z" fill="#eee"/>
<ellipse cx="429.6" cy="124.8" rx="11.6" ry="11.2" fill="none" stroke="#79c95c" stroke-width="1.55"/>
</g>
<g clip-path="url(#cc11)" filter="url(#b05)">
<rect x="445.2" y="110.8" width="30" height="29" fill="#585858"/>
<rect x="470" y="110" width="5" height="30" fill="#d8d8d8" filter="url(#b1)"/>
<path d="M452,122 C454,118 458,117.5 460,119.5 C463,117.5 467,119 466.5,123 C469,126 466,131 462,130.5 C458,133.5 452,132 451.5,128 C449.5,126 450,123 452,122Z" fill="#cfcfcf" filter="url(#b1)" transform="translate(459.5 125) scale(1.15) translate(-459.5 -125)"/>
<path d="M447,131 L452,128 M449,136 L455,131" stroke="#aaa" stroke-width="0.8" filter="url(#b05)"/>
<ellipse cx="459.6" cy="125" rx="11.3" ry="10.8" fill="none" stroke="#79c95c" stroke-width="1.55"/>
</g>
<g clip-path="url(#cc20)" filter="url(#b05)">
<rect x="416.2" y="138.9" width="30" height="31" fill="#4b4b4b"/>
<rect x="416.2" y="138.9" width="30" height="31" fill="#fff" filter="url(#ctn)" opacity="0.5"/>
<path d="M446,152 C442,161 432,167 417,168 L416,170 L446,170Z" fill="#f0f0f0"/><path d="M416,167.6 L430,166 L416,170Z" fill="#ddd"/>
<path d="M418,140 L423,147 M431,140 L430,150 M438,141 L444,150 M430,157 L428,166" stroke="#9a9a9a" stroke-width="0.5" fill="none"/><path d="M436,165 L441,160 M438,167 L443,162" stroke="#999" stroke-width="0.4"/>
<path d="M425.3,153.8 C425.3,151.6 427,150.3 429,150.6 C431,150.2 432.6,152 432.2,154 C432.8,156 430.6,157.4 428.8,157.2 C426.8,157.6 425.2,156 425.3,153.8Z" fill="#7468cf" stroke="#79c95c" stroke-width="1.1"/>
</g>
<g clip-path="url(#cc21)" filter="url(#b05)">
<rect x="445.2" y="138.9" width="30" height="31" fill="#6c6c6c"/>
<path d="M466,139 C469,146 468,152 471,160 C472,165 470,168 469,170 L475,170 L475,139Z" fill="#d6d6d6" filter="url(#b1)"/>
<path d="M445,142 C450,141 458,144 462,148 M446,160 C452,158 458,162 462,168" stroke="#a8a8a8" stroke-width="1.2" fill="none" filter="url(#b1)"/><ellipse cx="452" cy="150" rx="6" ry="5" fill="#8f8f8f" filter="url(#b1)"/><ellipse cx="451" cy="165" rx="5" ry="4" fill="#686868" filter="url(#b1)"/>
<path d="M454.6,153 C454.2,150 457,148.6 459,149.8 C461,148.4 464,149.6 463.6,152.4 C465,154.6 463.4,157.6 461,157.2 C459.4,159 456,158.6 455.6,156.4 C454.4,155.6 454.2,154 454.6,153Z" fill="#7468cf" stroke="#79c95c" stroke-width="1.2" transform="translate(459 153.8) scale(1.15) translate(-459 -153.8)"/>
</g>
<g clip-path="url(#cc30)" filter="url(#b05)">
<rect x="416.2" y="169.4" width="30" height="28" fill="#0c0808"/>
<path d="M416,193 C428,193 438,188 446,177 L446,198 L416,198Z" fill="#a9654f"/><path d="M418,195.5 C430,195 440,190 446,182" stroke="#6e3a2c" stroke-width="0.8" fill="none"/><path d="M420,197 C432,196 441,193 446,187" stroke="#d9a38e" stroke-width="0.5" fill="none"/>
<path d="M428,171 L434,173 M436,170 L440,174 M422,178 L424,181" stroke="#a9654f" stroke-width="0.7" fill="none"/>
<path d="M426.5,183 L428.5,180.6 L430.5,182 L432.6,181.6 L432.4,184.6 L433.8,186.6 L431,187.6 L429.6,189.4 L427.6,187.6 L425.6,186.4Z" fill="#cf55cf"/><circle cx="429.5" cy="185" r="1.2" fill="#eaa0ea"/>
</g>
<g clip-path="url(#cc31)" filter="url(#b05)">
<rect x="445.2" y="169.4" width="30" height="28" fill="#0c0808"/>
<path d="M466.5,169 C468,178 467,188 464,197 L475,197 L475,169Z" fill="#a9654f"/><path d="M469,169 C470.5,178 470,188 467.5,197 M472,169 C473,180 472.5,190 471,197" stroke="#7a4434" stroke-width="0.6" fill="none"/>
<path d="M445,185 C450,182 455,180 461,178 M445,190 C450,186 453,182 458,176 M448,175 C452,177 456,178 461,178 M445,194 C449,193 452,191 455,189 M447,170.5 C450,171 452,172 454,172" stroke="#a9654f" stroke-width="1.1" fill="none" stroke-linecap="round"/><path d="M445,187.5 C450,184 455,181.5 460,180" stroke="#e3b19c" stroke-width="0.4" fill="none"/>
<path d="M456.6,183 L459.6,181.4 L461.6,179 L463.6,180.6 L466,180 L465.6,183 L467.6,184.6 L465.4,186.4 L465.8,189 L462.8,188.4 L460.6,189.6 L459.4,187 L456.8,186Z" fill="#cf55cf"/><circle cx="462" cy="184.4" r="1.6" fill="#e8a0e8"/>
</g>
<g stroke="#5a8abb" stroke-width="0.55" fill="none"><path d="M445.2,84.3 V196.8"/>
<path d="M416.2,84.3 H473.7"/>
<path d="M416.2,110.8 H473.7"/>
<path d="M416.2,138.9 H473.7"/>
<path d="M416.2,169.4 H473.7"/>
</g>
<!-- FEATURES PANEL -->
<rect x="405.3" y="199" width="76" height="108.6" fill="#fff"/>
<path d="M405.3,307.6 V199.2 H481" stroke="#b7cfe6" stroke-width="0.7" fill="none"/>
<g font-size="4.6" fill="#1e1e1e" stroke="#1e1e1e" stroke-width="0.12">
<text x="409.7" y="215.4" textLength="39" lengthAdjust="spacingAndGlyphs">Tumour intensity</text>
<text x="409.7" y="240.6" textLength="28.8" lengthAdjust="spacingAndGlyphs">Tumour size</text>
<text x="409.7" y="272" textLength="36.2" lengthAdjust="spacingAndGlyphs">Tumour texture</text>
<text x="409.7" y="302.6" textLength="21.6" lengthAdjust="spacingAndGlyphs">Wavelets</text>
</g>
<g filter="url(#b05)"><path d="M458,218.2 H478.5" stroke="#777" stroke-width="0.4"/>
<path d="M459.5,218.2 L461.2,212 L462.3,207.6 L463.2,211 L464.2,209.5 L465.5,215 L466.5,218.2Z" fill="#1c6b3a"/>
<path d="M466.2,218.2 L467.2,209 L468,204 L469,205.5 L469.8,200.8 L470.8,206 L471.6,210 L472.4,218.2Z" fill="#203a9a"/>
<path d="M470.6,218.2 L472,214.5 L473.1,212 L474.4,214.6 L476,217 L478,218.2Z" fill="#d8232a"/></g>
<rect x="455.5" y="230.9" width="24.5" height="15" fill="#0a0a0a"/>
<g filter="url(#b05)"><path d="M468.5,234 C470,232 473,232.6 474,233.4 C476.5,233 477.6,235.6 476.6,237.4 C478,239.6 476.8,242 475,242.4 C474.6,244.4 471.4,244.6 470.4,243 C468.4,243 467.6,240.6 468.6,239 C467.2,237.6 467.2,235.2 468.5,234Z" fill="#ecd3a3"/><circle cx="461.7" cy="238" r="0.9" fill="#ecd3a3"/><path d="M471,236 L473,238 M474,236 L472.4,240.5 M470,240 L474,241" stroke="#a8874f" stroke-width="0.4" fill="none"/></g>
<g filter="url(#b05)"><rect x="456.3" y="260.6" width="20.3" height="17.6" fill="#f1f1f1"/>
<rect x="471.2" y="266.1" width="1.3" height="1.2" fill="#2b4fb0"/><rect x="473.2" y="267.6" width="1.3" height="1.2" fill="#2b4fb0"/><rect x="472.6" y="267.4" width="1.3" height="1.2" fill="#2b4fb0"/><rect x="464.3" y="264.2" width="1.3" height="1.2" fill="#2b4fb0"/><rect x="474.9" y="265.5" width="1.3" height="1.2" fill="#2b4fb0"/><rect x="474.5" y="261.6" width="1.3" height="1.2" fill="#2b4fb0"/><rect x="469.4" y="262.6" width="1.3" height="1.2" fill="#2b4fb0"/><rect x="470.3" y="264.9" width="1.3" height="1.2" fill="#2b4fb0"/><rect x="464.2" y="262.4" width="1.3" height="1.2" fill="#2b4fb0"/><rect x="467.2" y="267.4" width="1.3" height="1.2" fill="#2b4fb0"/><rect x="472.9" y="261.9" width="1.3" height="1.2" fill="#2b4fb0"/><rect x="473.2" y="261.8" width="1.3" height="1.2" fill="#2b4fb0"/><rect x="471.2" y="261.7" width="1.3" height="1.2" fill="#2b4fb0"/><rect x="464.0" y="267.1" width="1.3" height="1.2" fill="#2b4fb0"/><rect x="466.4" y="262.4" width="1.3" height="1.2" fill="#2b4fb0"/><rect x="475.4" y="267.1" width="1.3" height="1.2" fill="#2b4fb0"/><rect x="467.4" y="267.7" width="1.3" height="1.2" fill="#2b4fb0"/><rect x="470.3" y="265.7" width="1.3" height="1.2" fill="#2b4fb0"/><rect x="466.4" y="267.6" width="1.3" height="1.2" fill="#2b4fb0"/><rect x="472.0" y="267.8" width="1.3" height="1.2" fill="#2b4fb0"/><rect x="474.4" y="263.0" width="1.3" height="1.2" fill="#2b4fb0"/><rect x="468.2" y="262.0" width="1.3" height="1.2" fill="#2b4fb0"/>
<rect x="457.8" y="266.7" width="1.3" height="1.2" fill="#cc2a2a"/><rect x="459.0" y="272.6" width="1.3" height="1.2" fill="#cc2a2a"/><rect x="456.6" y="273.5" width="1.3" height="1.2" fill="#cc2a2a"/><rect x="459.3" y="269.4" width="1.3" height="1.2" fill="#cc2a2a"/><rect x="463.1" y="271.3" width="1.3" height="1.2" fill="#cc2a2a"/><rect x="459.1" y="271.3" width="1.3" height="1.2" fill="#cc2a2a"/><rect x="462.2" y="266.6" width="1.3" height="1.2" fill="#cc2a2a"/><rect x="464.4" y="266.3" width="1.3" height="1.2" fill="#cc2a2a"/><rect x="462.6" y="275.3" width="1.3" height="1.2" fill="#cc2a2a"/><rect x="456.7" y="274.7" width="1.3" height="1.2" fill="#cc2a2a"/><rect x="459.5" y="272.4" width="1.3" height="1.2" fill="#cc2a2a"/><rect x="456.7" y="266.5" width="1.3" height="1.2" fill="#cc2a2a"/><rect x="458.0" y="276.5" width="1.3" height="1.2" fill="#cc2a2a"/><rect x="458.2" y="274.3" width="1.3" height="1.2" fill="#cc2a2a"/><rect x="464.0" y="276.4" width="1.3" height="1.2" fill="#cc2a2a"/><rect x="459.4" y="269.9" width="1.3" height="1.2" fill="#cc2a2a"/><rect x="460.8" y="274.5" width="1.3" height="1.2" fill="#cc2a2a"/><rect x="457.5" y="274.2" width="1.3" height="1.2" fill="#cc2a2a"/><rect x="463.0" y="275.5" width="1.3" height="1.2" fill="#cc2a2a"/><rect x="456.9" y="276.4" width="1.3" height="1.2" fill="#cc2a2a"/><rect x="457.3" y="269.7" width="1.3" height="1.2" fill="#cc2a2a"/><rect x="461.5" y="276.1" width="1.3" height="1.2" fill="#cc2a2a"/>
<rect x="469.2" y="276.4" width="1.3" height="1.2" fill="#e3c23c"/><rect x="471.1" y="271.8" width="1.3" height="1.2" fill="#e3c23c"/><rect x="469.0" y="270.8" width="1.3" height="1.2" fill="#e3c23c"/><rect x="466.7" y="270.6" width="1.3" height="1.2" fill="#e3c23c"/><rect x="472.5" y="277.0" width="1.3" height="1.2" fill="#e3c23c"/><rect x="467.5" y="269.9" width="1.3" height="1.2" fill="#e3c23c"/><rect x="475.3" y="273.5" width="1.3" height="1.2" fill="#e3c23c"/><rect x="469.8" y="271.3" width="1.3" height="1.2" fill="#e3c23c"/><rect x="471.6" y="275.7" width="1.3" height="1.2" fill="#e3c23c"/><rect x="470.3" y="272.7" width="1.3" height="1.2" fill="#e3c23c"/><rect x="466.5" y="276.4" width="1.3" height="1.2" fill="#e3c23c"/><rect x="466.3" y="273.2" width="1.3" height="1.2" fill="#e3c23c"/><rect x="473.9" y="270.5" width="1.3" height="1.2" fill="#e3c23c"/><rect x="472.9" y="276.6" width="1.3" height="1.2" fill="#e3c23c"/><rect x="471.9" y="275.4" width="1.3" height="1.2" fill="#e3c23c"/><rect x="467.0" y="272.8" width="1.3" height="1.2" fill="#e3c23c"/><rect x="467.4" y="275.8" width="1.3" height="1.2" fill="#e3c23c"/><rect x="468.8" y="272.9" width="1.3" height="1.2" fill="#e3c23c"/><rect x="475.4" y="275.9" width="1.3" height="1.2" fill="#e3c23c"/><rect x="475.2" y="272.9" width="1.3" height="1.2" fill="#e3c23c"/>
<rect x="459.9" y="263.9" width="1.3" height="1.2" fill="#d0d0d8"/><rect x="459.9" y="262.2" width="1.3" height="1.2" fill="#d0d0d8"/><rect x="459.4" y="261.6" width="1.3" height="1.2" fill="#d0d0d8"/><rect x="459.3" y="265.0" width="1.3" height="1.2" fill="#d0d0d8"/><rect x="462.8" y="263.5" width="1.3" height="1.2" fill="#d0d0d8"/><rect x="460.0" y="262.4" width="1.3" height="1.2" fill="#d0d0d8"/>
</g>
<g fill="#4a8fd3" stroke="#4a8fd3" stroke-width="0.6">
<rect x="452.8" y="297" width="5.4" height="2" stroke="none"/>
<rect x="462.4" y="293.4" width="5" height="2" stroke="none"/><rect x="462.4" y="300.8" width="5" height="2" stroke="none"/>
<rect x="472" y="292" width="5" height="2.2" stroke="none"/>
<rect x="472" y="295.4" width="5" height="2.2" stroke="none"/>
<rect x="472" y="298.8" width="5" height="2.2" stroke="none"/>
<rect x="472" y="302.4" width="5" height="2.2" stroke="none"/>
<path d="M458,298 L462.4,294.4 M458,298 L462.4,301.8 M467.4,294.4 L472,293.1 M467.4,294.4 L472,296.5 M467.4,301.8 L472,299.9 M467.4,301.8 L472,303.5" fill="none"/>
</g>
<!-- CLUSTER MATRIX -->
<rect x="396" y="335" width="74" height="104" fill="#fff"/>
<g filter="url(#b05)">
<rect x="398.3" y="338.2" width="68.1" height="77.3" fill="#222528"/>
<rect x="398.3" y="338.2" width="19.6" height="27.0" fill="#2b3947"/>
<rect x="419.1" y="365.2" width="18.4" height="19.6" fill="#34485c"/>
<rect x="430.1" y="374.3" width="36.3" height="41.2" fill="#2a3744"/>
<rect x="398.3" y="338.2" width="6.1" height="6.9" fill="#5a93cc"/>
<rect x="406.4" y="349.2" width="6.6" height="6.9" fill="#4f86bd"/>
<rect x="413.0" y="356.1" width="3.2" height="2.9" fill="#5a93cc"/>
<rect x="416.2" y="359.8" width="9.8" height="11.5" fill="#4a80b5"/>
<rect x="426.0" y="371.3" width="6.6" height="7.4" fill="#5a93cc"/>
<rect x="432.6" y="378.7" width="9.3" height="11.0" fill="#4a80b5"/>
<rect x="441.9" y="389.7" width="24.5" height="25.8" fill="#5b95cf"/>
</g>
<path d="M399.0,416.7 L399.0,420.9 M402.5,416.7 L402.5,427.8 L410.5,427.8 M406.4,418.0 L406.4,420.9 L410.5,420.9 L410.5,418.0 M408.3,420.9 L408.3,424.1 L419.1,424.1 M416.2,417.5 L416.2,419.2 L422.1,419.2 L422.1,417.5 M419.1,419.2 L419.1,424.1 M410.5,424.1 L410.5,435.1 L438.7,435.1 L438.7,427.8 M430.1,417.5 L430.1,427.8 L446.1,427.8 M428.4,417.5 L432.4,417.5 M436.8,417.5 L436.8,420.4 L440.2,420.4 L440.2,417.5 M438.5,420.4 L438.5,427.8 M444.8,417.5 L444.8,420.9 L453.4,420.9 L453.4,418.0 M449.3,418.0 L449.3,419.2 M446.1,420.9 L446.1,427.8 M451.0,420.9 L451.0,422.9 L460.8,422.9 L460.8,419.2 M457.8,418.0 L457.8,420.4 L464.4,420.4 L464.4,417.5 " stroke="#b4b4b4" stroke-width="0.5" fill="none"/>
<!-- SILHOUETTES + BIG ARROWS -->
<defs>
<path id="sil" d="M587.5,65.3C589.9,65.3 592.5,65.2 594.7,66.2C596.9,67.2 599.3,69.4 600.8,71.5C602.4,73.6 603.4,76.2 604.1,79.0C604.8,81.8 604.5,86.6 604.8,88.5C605.1,90.4 605.7,89.2 605.8,90.2C606.0,91.2 606.0,93.3 605.7,94.8C605.5,96.3 604.7,97.1 604.1,99.0C603.5,100.9 602.9,103.8 602.3,106.0C601.6,108.2 600.7,110.1 600.2,112.0C599.7,113.9 598.3,116.0 599.4,117.5C600.5,119.0 603.2,119.7 607.0,121.0C610.8,122.3 617.9,123.7 622.0,125.5C626.2,127.3 629.5,129.3 632.1,132.0C634.6,134.7 636.0,137.5 637.3,141.5C638.6,145.5 638.9,151.6 639.8,156.0C640.7,160.4 642.0,164.3 642.9,168.0C643.7,171.7 644.1,174.3 644.7,178.0C645.3,181.7 645.3,186.2 646.2,190.0C647.1,193.8 649.1,197.0 650.0,200.5C650.9,204.0 651.3,207.6 651.7,211.0C652.1,214.4 652.2,217.5 652.4,221.0C652.5,224.5 652.5,228.9 652.5,232.0C652.5,235.1 652.2,238.2 652.2,239.4C650.3,239.4 643.0,239.4 641.1,239.4C640.4,237.7 638.2,232.7 636.8,229.0C635.5,225.3 634.2,221.5 633.0,217.0C631.8,212.5 630.8,206.8 629.6,202.0C628.4,197.2 626.9,192.2 625.7,188.0C624.5,183.8 623.0,178.4 622.5,176.5C622.0,178.2 620.6,183.1 619.5,187.0C618.4,190.9 616.5,196.3 615.8,200.0C615.1,203.7 615.2,206.0 615.4,209.0C615.6,212.0 616.3,214.7 616.9,218.0C617.5,221.3 618.1,225.4 618.9,229.0C619.6,232.6 620.8,237.7 621.2,239.4C610.0,239.4 565.0,239.4 553.8,239.4C554.2,237.7 555.4,232.6 556.1,229.0C556.9,225.4 557.5,221.3 558.1,218.0C558.7,214.7 559.4,212.0 559.6,209.0C559.8,206.0 559.9,203.7 559.2,200.0C558.5,196.3 556.6,190.9 555.5,187.0C554.4,183.1 553.0,178.2 552.5,176.5C552.0,178.4 550.5,183.8 549.3,188.0C548.1,192.2 546.6,197.2 545.4,202.0C544.2,206.8 543.2,212.5 542.0,217.0C540.8,221.5 539.5,225.3 538.2,229.0C536.8,232.7 534.6,237.7 533.9,239.4C532.0,239.4 524.7,239.4 522.8,239.4C522.8,238.2 522.5,235.1 522.5,232.0C522.5,228.9 522.5,224.5 522.6,221.0C522.8,217.5 522.9,214.4 523.3,211.0C523.7,207.6 524.1,204.0 525.0,200.5C525.9,197.0 527.9,193.8 528.8,190.0C529.7,186.2 529.7,181.7 530.3,178.0C530.9,174.3 531.3,171.7 532.1,168.0C533.0,164.3 534.3,160.4 535.2,156.0C536.1,151.6 536.4,145.5 537.7,141.5C539.0,137.5 540.4,134.7 542.9,132.0C545.5,129.3 548.8,127.3 553.0,125.5C557.1,123.7 564.2,122.3 568.0,121.0C571.8,119.7 574.5,119.0 575.6,117.5C576.7,116.0 575.3,113.9 574.8,112.0C574.3,110.1 573.4,108.2 572.7,106.0C572.1,103.8 571.5,100.9 570.9,99.0C570.3,97.1 569.5,96.3 569.3,94.8C569.0,93.3 569.0,91.2 569.2,90.2C569.3,89.2 569.9,90.4 570.2,88.5C570.5,86.6 570.2,81.8 570.9,79.0C571.6,76.2 572.6,73.6 574.2,71.5C575.7,69.4 578.1,67.2 580.3,66.2C582.5,65.2 585.1,65.3 587.5,65.3Z"/>
<linearGradient id="fadeW" x1="0" y1="0" x2="0" y2="1"><stop offset="0" stop-color="#fff" stop-opacity="0"/><stop offset="1" stop-color="#fff" stop-opacity="1"/></linearGradient>
<filter id="soft" x="-5%" y="-5%" width="110%" height="110%"><feGaussianBlur stdDeviation="0.95"/></filter><filter id="softA" x="-5%" y="-5%" width="110%" height="110%"><feGaussianBlur stdDeviation="1.3"/></filter>
<filter id="soft2" x="-5%" y="-5%" width="110%" height="110%"><feGaussianBlur stdDeviation="0.6"/></filter>
</defs>
<g id="people3">
<path filter="url(#softA)" fill="#bdbdbd" d="M478.5,131.5 C486,126 498,122.5 510.5,122 L509.5,105.5 L551,124.8 L514.5,154 L513.8,144 C503,146 494,155 488,166 C484.5,172.5 481.5,177.5 478.5,180 Z"/>
<g filter="url(#soft2)">
<use href="#sil" fill="#060606"/>
<rect x="623" y="201" width="34" height="28" fill="url(#fadeW)"/><rect x="623" y="228.8" width="34" height="12" fill="#fff"/>
<path d="M570.4,152.3H592.2Q594.6,152.3 594.6,154.7L594.6,156.5Q594.6,157.3 593.6,157.6L585.2,161.2L593.6,164.9Q594.6,165.2 594.6,166.0L594.6,168.3Q594.6,170.7 592.2,170.7H570.4Q568.0,170.7 568.0,168.3V154.7Q568.0,152.3 570.4,152.3Z" fill="#c9c9c9"/>
<path d="M594.6,160.9L602.4,158.0Q604.0,157.0 604.2,154.6Q604.3,153.6 605.3,153.6L609.2,153.6Q610.2,153.6 610.2,154.6L610.2,167.3Q610.2,168.3 609.2,168.3L605.3,168.3Q604.3,168.3 604.2,167.3Q604.0,164.8 602.4,163.8Z" fill="#8ccf5a"/>
<path d="M570.4,187.2H592.2Q594.6,187.2 594.6,189.6L594.6,191.2Q594.6,192.0 593.6,192.3L585.2,195.8L593.6,199.4Q594.6,199.7 594.6,200.5L594.6,202.6Q594.6,205.0 592.2,205.0H570.4Q568.0,205.0 568.0,202.6V189.6Q568.0,187.2 570.4,187.2Z" fill="#c9c9c9"/>
<path d="M594.6,195.8L602.4,192.9Q604.0,191.9 604.2,190.0Q604.3,189.0 605.3,189.0L609.2,189.0Q610.2,189.0 610.2,190.0L610.2,202.1Q610.2,203.1 609.2,203.1L605.3,203.1Q604.3,203.1 604.2,202.1Q604.0,199.7 602.4,198.7Z" fill="#8ccf5a"/>
<use href="#sil" transform="translate(99.4,97.3)" fill="#060606"/>
<rect x="618" y="296" width="33" height="24" fill="url(#fadeW)"/><rect x="618" y="319.8" width="33" height="18" fill="#fff"/>
<path d="M673.2,248.0H695.0Q697.4,248.0 697.4,250.4L697.4,251.8Q697.4,252.6 696.4,252.9L688.0,256.2L696.4,259.5Q697.4,259.8 697.4,260.6L697.4,262.5Q697.4,264.9 695.0,264.9H673.2Q670.8,264.9 670.8,262.5V250.4Q670.8,248.0 673.2,248.0Z" fill="#c9c9c9"/>
<path d="M700.4,257.0L708.8,254.1Q710.4,253.1 710.6,251.2Q710.7,250.2 711.7,250.2L715.4,250.2Q716.4,250.2 716.4,251.2L716.4,262.8Q716.4,263.8 715.4,263.8L711.7,263.8Q710.7,263.8 710.6,262.8Q710.4,260.9 708.8,259.9Z" fill="#8ccf5a"/>
<path d="M673.2,284.9H695.4Q697.8,284.9 697.8,287.3L697.8,288.8Q697.8,289.6 696.8,289.9L688.2,293.3L696.8,296.7Q697.8,297.0 697.8,297.8L697.8,299.8Q697.8,302.2 695.4,302.2H673.2Q670.8,302.2 670.8,299.8V287.3Q670.8,284.9 673.2,284.9Z" fill="#ee5f62"/>
<use href="#sil" transform="translate(-0.6,188.8)" fill="#060606"/>
<path d="M573.8,343.6H596.4Q598.8,343.6 598.8,346.0L598.8,347.5Q598.8,348.3 597.8,348.6L589.1,352.0L597.8,355.5Q598.8,355.8 598.8,356.6L598.8,358.6Q598.8,361.0 596.4,361.0H573.8Q571.4,361.0 571.4,358.6V346.0Q571.4,343.6 573.8,343.6Z" fill="#ee5f62"/>
<path d="M573.8,382.3H596.4Q598.8,382.3 598.8,384.7L598.8,386.2Q598.8,387.0 597.8,387.3L589.1,390.8L597.8,394.2Q598.8,394.6 598.8,395.4L598.8,397.4Q598.8,399.8 596.4,399.8H573.8Q571.4,399.8 571.4,397.4V384.7Q571.4,382.3 573.8,382.3Z" fill="#ee5f62"/>
</g>
<path filter="url(#soft)" fill="#bdbdbd" d="M487,241.8 L528.3,241.8 L528.3,230 L568.5,253.6 L528.3,277.8 L528.3,266 L487,266 Z"/>
<path filter="url(#soft)" fill="#bdbdbd" d="M479.2,343.5 C485,348 490,357 494,368 C498,379 503,386.5 513.5,389.8 L515.4,379 L553.8,410.4 L511.5,428.2 L513,415.2 C503,414 495,409.5 488,401.5 C483,396 480,392 479.2,390 Z"/>
</g>
<!-- PEOPLE + THERAPY -->
<g id="therapy" filter="url(#b03)">
<defs><filter id="b03" x="-5%" y="-5%" width="110%" height="110%"><feGaussianBlur stdDeviation="0.35"/></filter>
<linearGradient id="ag" x1="0" y1="0" x2="0" y2="1"><stop offset="0" stop-color="#f4f4f4"/><stop offset="1" stop-color="#b8b8b8"/></linearGradient></defs>
<g transform="translate(796.1,71.4)"><path d="M-3.6,4.4 L-8.1,14 Q-7.6,15.8 -5.8,15.2 L-3.2,10.5Z" fill="#4bb04a"/><path d="M3.6,4.4 L8.1,14 Q7.6,15.8 5.8,15.2 L3.2,10.5Z" fill="#4bb04a"/><path d="M-3.8,15.8 H-0.25 V25.6 Q-0.4,27 -2.1,27 Q-3.7,27 -3.8,25.6Z" fill="#4bb04a"/><path d="M3.8,15.8 H0.25 V25.6 Q0.4,27 2.1,27 Q3.7,27 3.8,25.6Z" fill="#4bb04a"/><rect x="-3.8" y="4.4" width="7.6" height="11.9" fill="#a9a9a9"/><circle cx="0" cy="0" r="3.8" fill="#a9a9a9"/></g>
<g transform="translate(811.0,77.3)"><path d="M-3.6,4.4 L-8.1,14 Q-7.6,15.8 -5.8,15.2 L-3.2,10.5Z" fill="#4bb04a"/><path d="M3.6,4.4 L8.1,14 Q7.6,15.8 5.8,15.2 L3.2,10.5Z" fill="#4bb04a"/><path d="M-3.8,15.8 H-0.25 V25.6 Q-0.4,27 -2.1,27 Q-3.7,27 -3.8,25.6Z" fill="#4bb04a"/><path d="M3.8,15.8 H0.25 V25.6 Q0.4,27 2.1,27 Q3.7,27 3.8,25.6Z" fill="#4bb04a"/><rect x="-3.8" y="4.4" width="7.6" height="11.9" fill="#a9a9a9"/><circle cx="0" cy="0" r="3.8" fill="#a9a9a9"/></g>
<g transform="translate(826.3,71.4)"><path d="M-3.6,4.4 L-8.1,14 Q-7.6,15.8 -5.8,15.2 L-3.2,10.5Z" fill="#4bb04a"/><path d="M3.6,4.4 L8.1,14 Q7.6,15.8 5.8,15.2 L3.2,10.5Z" fill="#4bb04a"/><path d="M-3.8,15.8 H-0.25 V25.6 Q-0.4,27 -2.1,27 Q-3.7,27 -3.8,25.6Z" fill="#4bb04a"/><path d="M3.8,15.8 H0.25 V25.6 Q0.4,27 2.1,27 Q3.7,27 3.8,25.6Z" fill="#4bb04a"/><rect x="-3.8" y="4.4" width="7.6" height="11.9" fill="#a9a9a9"/><circle cx="0" cy="0" r="3.8" fill="#a9a9a9"/></g>
<g transform="translate(856.2,76.7)"><path d="M-3.6,4.4 L-8.1,14 Q-7.6,15.8 -5.8,15.2 L-3.2,10.5Z" fill="#c5262d"/><path d="M3.6,4.4 L8.1,14 Q7.6,15.8 5.8,15.2 L3.2,10.5Z" fill="#c5262d"/><path d="M-3.8,15.8 H-0.25 V25.6 Q-0.4,27 -2.1,27 Q-3.7,27 -3.8,25.6Z" fill="#4bb04a"/><path d="M3.8,15.8 H0.25 V25.6 Q0.4,27 2.1,27 Q3.7,27 3.8,25.6Z" fill="#c5262d"/><rect x="-3.8" y="4.4" width="7.6" height="11.9" fill="#a9a9a9"/><circle cx="0" cy="0" r="3.8" fill="#a9a9a9"/></g>
<g transform="translate(870.5,70.8)"><path d="M-3.6,4.4 L-8.1,14 Q-7.6,15.8 -5.8,15.2 L-3.2,10.5Z" fill="#4bb04a"/><path d="M3.6,4.4 L8.1,14 Q7.6,15.8 5.8,15.2 L3.2,10.5Z" fill="#c5262d"/><path d="M-3.8,15.8 H-0.25 V25.6 Q-0.4,27 -2.1,27 Q-3.7,27 -3.8,25.6Z" fill="#c5262d"/><path d="M3.8,15.8 H0.25 V25.6 Q0.4,27 2.1,27 Q3.7,27 3.8,25.6Z" fill="#c5262d"/><rect x="-3.8" y="4.4" width="7.6" height="11.9" fill="#a9a9a9"/><circle cx="0" cy="0" r="3.8" fill="#a9a9a9"/></g>
<g transform="translate(885.6,76.7)"><path d="M-3.6,4.4 L-8.1,14 Q-7.6,15.8 -5.8,15.2 L-3.2,10.5Z" fill="#c5262d"/><path d="M3.6,4.4 L8.1,14 Q7.6,15.8 5.8,15.2 L3.2,10.5Z" fill="#5f2d8e"/><path d="M-3.8,15.8 H-0.25 V25.6 Q-0.4,27 -2.1,27 Q-3.7,27 -3.8,25.6Z" fill="#5f2d8e"/><path d="M3.8,15.8 H0.25 V25.6 Q0.4,27 2.1,27 Q3.7,27 3.8,25.6Z" fill="#4bb04a"/><rect x="-3.8" y="4.4" width="7.6" height="11.9" fill="#a9a9a9"/><circle cx="0" cy="0" r="3.8" fill="#a9a9a9"/></g>
<g transform="translate(928.9,76.7)"><path d="M-3.6,4.4 L-8.1,14 Q-7.6,15.8 -5.8,15.2 L-3.2,10.5Z" fill="#5f2d8e"/><path d="M3.6,4.4 L8.1,14 Q7.6,15.8 5.8,15.2 L3.2,10.5Z" fill="#5f2d8e"/><path d="M-3.8,15.8 H-0.25 V25.6 Q-0.4,27 -2.1,27 Q-3.7,27 -3.8,25.6Z" fill="#5f2d8e"/><path d="M3.8,15.8 H0.25 V25.6 Q0.4,27 2.1,27 Q3.7,27 3.8,25.6Z" fill="#5f2d8e"/><rect x="-3.8" y="4.4" width="7.6" height="11.9" fill="#a9a9a9"/><circle cx="0" cy="0" r="3.8" fill="#a9a9a9"/></g>
<rect x="803.4" y="110" width="135.6" height="30" rx="6.5" fill="#e2e2e2" opacity="0.6" transform="translate(0.6,1)"/>
<rect x="802.6" y="109.3" width="135" height="29.6" rx="6.5" fill="#fff" stroke="#8a8a8a" stroke-width="1"/>
<text x="871.6" y="119.6" font-size="7.6" text-anchor="middle" fill="#222" stroke="#222" stroke-width="0.15" textLength="29" lengthAdjust="spacingAndGlyphs">Therapy</text>
<clipPath id="pl1"><rect x="806.1" y="125.8" width="31.2" height="8.6" rx="4.3"/></clipPath><g clip-path="url(#pl1)"><rect x="806" y="125" width="16" height="10" fill="#40a944"/><rect x="821.7" y="125" width="16" height="10" fill="#5cc15a"/></g>
<clipPath id="pl2"><rect x="854.8" y="125.8" width="31.2" height="8.6" rx="4.3"/></clipPath><g clip-path="url(#pl2)"><rect x="854" y="125" width="11" height="10" fill="#c5202b"/><rect x="864.8" y="125" width="11" height="10" fill="#4cae4a"/><rect x="875.6" y="125" width="11" height="10" fill="#7b45a8"/></g>
<clipPath id="pl3"><rect x="901.8" y="125.8" width="31.6" height="8.6" rx="4.3"/></clipPath><g clip-path="url(#pl3)"><rect x="901" y="125" width="15" height="10" fill="#5a2b84"/><rect x="915.6" y="125" width="18" height="10" fill="#7a49a9"/></g>
<path d="M-3,0 H3 V9 H6.4 L0,17 L-6.4,9 H-3Z" transform="translate(824.6,141.8) rotate(-32)" fill="url(#ag)"/>
<path d="M-3,0 H3 V9 H6.4 L0,17 L-6.4,9 H-3Z" transform="translate(871.5,141.8)" fill="url(#ag)"/>
<path d="M-3,0 H3 V9 H6.4 L0,17 L-6.4,9 H-3Z" transform="translate(915.5,141.8) rotate(32)" fill="url(#ag)"/>
<g transform="translate(846.4,146.8)"><path d="M-3.6,4.4 L-8.1,14 Q-7.6,15.8 -5.8,15.2 L-3.2,10.5Z" fill="#4bb04a"/><path d="M3.6,4.4 L8.1,14 Q7.6,15.8 5.8,15.2 L3.2,10.5Z" fill="#4bb04a"/><path d="M-3.8,15.8 H-0.25 V25.6 Q-0.4,27 -2.1,27 Q-3.7,27 -3.8,25.6Z" fill="#4bb04a"/><path d="M3.8,15.8 H0.25 V25.6 Q0.4,27 2.1,27 Q3.7,27 3.8,25.6Z" fill="#4bb04a"/><rect x="-3.8" y="4.4" width="7.6" height="11.9" fill="#a9a9a9"/><circle cx="0" cy="0" r="3.8" fill="#a9a9a9"/></g>
<g transform="translate(897.3,146.2)"><path d="M-3.6,4.4 L-8.1,14 Q-7.6,15.8 -5.8,15.2 L-3.2,10.5Z" fill="#5f2d8e"/><path d="M3.6,4.4 L8.1,14 Q7.6,15.8 5.8,15.2 L3.2,10.5Z" fill="#c5262d"/><path d="M-3.8,15.8 H-0.25 V25.6 Q-0.4,27 -2.1,27 Q-3.7,27 -3.8,25.6Z" fill="#c5262d"/><path d="M3.8,15.8 H0.25 V25.6 Q0.4,27 2.1,27 Q3.7,27 3.8,25.6Z" fill="#c5262d"/><rect x="-3.8" y="4.4" width="7.6" height="11.9" fill="#a9a9a9"/><circle cx="0" cy="0" r="3.8" fill="#a9a9a9"/></g>
<g transform="translate(834.0,169.4)"><path d="M-3.6,4.4 L-8.1,14 Q-7.6,15.8 -5.8,15.2 L-3.2,10.5Z" fill="#5f2d8e"/><path d="M3.6,4.4 L8.1,14 Q7.6,15.8 5.8,15.2 L3.2,10.5Z" fill="#5f2d8e"/><path d="M-3.8,15.8 H-0.25 V25.6 Q-0.4,27 -2.1,27 Q-3.7,27 -3.8,25.6Z" fill="#5f2d8e"/><path d="M3.8,15.8 H0.25 V25.6 Q0.4,27 2.1,27 Q3.7,27 3.8,25.6Z" fill="#5f2d8e"/><rect x="-3.8" y="4.4" width="7.6" height="11.9" fill="#a9a9a9"/><circle cx="0" cy="0" r="3.8" fill="#a9a9a9"/></g>
<g transform="translate(857.7,169.4)"><path d="M-3.6,4.4 L-8.1,14 Q-7.6,15.8 -5.8,15.2 L-3.2,10.5Z" fill="#c5262d"/><path d="M3.6,4.4 L8.1,14 Q7.6,15.8 5.8,15.2 L3.2,10.5Z" fill="#c5262d"/><path d="M-3.8,15.8 H-0.25 V25.6 Q-0.4,27 -2.1,27 Q-3.7,27 -3.8,25.6Z" fill="#4bb04a"/><path d="M3.8,15.8 H0.25 V25.6 Q0.4,27 2.1,27 Q3.7,27 3.8,25.6Z" fill="#c5262d"/><rect x="-3.8" y="4.4" width="7.6" height="11.9" fill="#a9a9a9"/><circle cx="0" cy="0" r="3.8" fill="#a9a9a9"/></g>
<g transform="translate(872.0,164.6)"><path d="M-3.6,4.4 L-8.1,14 Q-7.6,15.8 -5.8,15.2 L-3.2,10.5Z" fill="#5f2d8e"/><path d="M3.6,4.4 L8.1,14 Q7.6,15.8 5.8,15.2 L3.2,10.5Z" fill="#5f2d8e"/><path d="M-3.8,15.8 H-0.25 V25.6 Q-0.4,27 -2.1,27 Q-3.7,27 -3.8,25.6Z" fill="#5f2d8e"/><path d="M3.8,15.8 H0.25 V25.6 Q0.4,27 2.1,27 Q3.7,27 3.8,25.6Z" fill="#5f2d8e"/><rect x="-3.8" y="4.4" width="7.6" height="11.9" fill="#a9a9a9"/><circle cx="0" cy="0" r="3.8" fill="#a9a9a9"/></g>
<g transform="translate(886.7,169.4)"><path d="M-3.6,4.4 L-8.1,14 Q-7.6,15.8 -5.8,15.2 L-3.2,10.5Z" fill="#5f2d8e"/><path d="M3.6,4.4 L8.1,14 Q7.6,15.8 5.8,15.2 L3.2,10.5Z" fill="#5f2d8e"/><path d="M-3.8,15.8 H-0.25 V25.6 Q-0.4,27 -2.1,27 Q-3.7,27 -3.8,25.6Z" fill="#5f2d8e"/><path d="M3.8,15.8 H0.25 V25.6 Q0.4,27 2.1,27 Q3.7,27 3.8,25.6Z" fill="#5f2d8e"/><rect x="-3.8" y="4.4" width="7.6" height="11.9" fill="#a9a9a9"/><circle cx="0" cy="0" r="3.8" fill="#a9a9a9"/></g>
<g transform="translate(911.5,169.4)"><path d="M-3.6,4.4 L-8.1,14 Q-7.6,15.8 -5.8,15.2 L-3.2,10.5Z" fill="#c5262d"/><path d="M3.6,4.4 L8.1,14 Q7.6,15.8 5.8,15.2 L3.2,10.5Z" fill="#4bb04a"/><path d="M-3.8,15.8 H-0.25 V25.6 Q-0.4,27 -2.1,27 Q-3.7,27 -3.8,25.6Z" fill="#4bb04a"/><path d="M3.8,15.8 H0.25 V25.6 Q0.4,27 2.1,27 Q3.7,27 3.8,25.6Z" fill="#4bb04a"/><rect x="-3.8" y="4.4" width="7.6" height="11.9" fill="#a9a9a9"/><circle cx="0" cy="0" r="3.8" fill="#a9a9a9"/></g>
</g>
<!-- SKETCH of two men -->
<g id="sketch" fill="none" stroke="#141414" stroke-width="0.68" stroke-linecap="round" stroke-linejoin="round" filter="url(#b03)">
<path d="M850.5,208.6 C853.5,205.6 858.5,205.8 861.2,208.8 C862.8,211 862.4,214 862.8,216.4 L864.4,220.4 L862.6,221.2 L862.8,223.2 L861.6,224 L861.8,226 C860.6,228.2 857.8,228.4 855.8,227.6 L853.8,230.6 M850.5,208.6 C848.6,211.6 848.4,216 849.6,219.6 L848.6,222.4 M851,209 L853,212 M852.6,207.4 L855,211.4 M854.6,206.6 L857,210.8 M856.8,206.4 L859,210.4 M859,207 L860.8,210.6 M850,211.6 L852.4,214.8 M849.6,214 L851.8,217.2 M850,217 L852,219.4 M853,213 L856,215 M856,212 L859.6,213.4 M853.4,217 C854.6,216 855.6,217.4 854.8,219 M859.6,216 L861.6,216.2 M859.8,222.6 L862.4,222.2 M858,225.6 L861,225.4 M848.6,222.4 C842,222.6 833,225 827.4,229.4 C822,234 818.6,241 817.2,247.6 C816.4,251 815,253.6 813.4,255.8 M853.8,230.6 C852.6,235.6 850,241 847.2,246 C845.2,249.6 843,252 840,254 M846,224 C847,229 846,236 843,243 M842.4,226 C838,231 836,238 835.6,245 M829.6,229 C826,236 824,243 824.4,250 M849,228 C848.6,233 847,238 844.6,243 M833,232 C829,238 827,246 828.4,252 C830,257 834,261 838.6,263.4 L841.4,266.6 M838,246 C838.6,252 841,257 844.6,260.4 L847.6,262.4 M841.4,266.6 C842.6,268.6 845,269 846.4,267.6 C848.4,268.4 850,266.8 849.6,264.8 C850.4,263 849,261.6 847.6,262.4 M843,265 L845.6,263.6 M845,267 L847.4,265.4 M829.6,262.6 C831,266 833.6,268 836.4,268.2 C838,268 838.6,266.4 837.6,265 L834.6,261.6 M817.6,249 C822,254 828,257 834.6,257.6 M820,252.6 C823,257.6 826.6,261 829.6,262.6 M813.4,255.8 C814.4,262 816.4,268 818.6,274 C820.4,278 821.4,280.6 821,283.6 C819,295 816,307 813.6,319 L812.2,323.6 M836.6,268.4 C836,277 835.6,286 835.8,295 C836,303 836.6,311 837,319.4 M826,270 C826.6,280 826,290 825,300 C824.4,307 823.6,313 823,319.6 M830,272 C829.6,284 828.6,296 827.6,308 L826.6,320 M818,262 L819.6,268 M821,284 C820.6,290 819.6,296 818.4,302 M832.6,290 L832.4,300 M833.6,276 L833.4,284 M812.2,323.6 C812,325.4 813.6,326.4 816,326.4 L826.6,326.2 C828.6,326 829,324.4 827.6,323.2 L823,319.6 M826.6,320 C830,321 834,322.4 838.6,322.6 C841.6,322.8 842.6,324.6 841,325.6 L829,326 M837,319.4 L838.6,322.6"/>
<path d="M850.5,208.6 C853.5,205.6 858.5,205.8 861.2,208.8 C862.8,211 862.4,214 862.8,216.4 L864.4,220.4 L862.6,221.2 L862.8,223.2 L861.6,224 L861.8,226 C860.6,228.2 857.8,228.4 855.8,227.6 L853.8,230.6 M850.5,208.6 C848.6,211.6 848.4,216 849.6,219.6 L848.6,222.4 M851,209 L853,212 M852.6,207.4 L855,211.4 M854.6,206.6 L857,210.8 M856.8,206.4 L859,210.4 M859,207 L860.8,210.6 M850,211.6 L852.4,214.8 M849.6,214 L851.8,217.2 M850,217 L852,219.4 M853,213 L856,215 M856,212 L859.6,213.4 M853.4,217 C854.6,216 855.6,217.4 854.8,219 M859.6,216 L861.6,216.2 M859.8,222.6 L862.4,222.2 M858,225.6 L861,225.4 M848.6,222.4 C842,222.6 833,225 827.4,229.4 C822,234 818.6,241 817.2,247.6 C816.4,251 815,253.6 813.4,255.8 M853.8,230.6 C852.6,235.6 850,241 847.2,246 C845.2,249.6 843,252 840,254 M846,224 C847,229 846,236 843,243 M842.4,226 C838,231 836,238 835.6,245 M829.6,229 C826,236 824,243 824.4,250 M849,228 C848.6,233 847,238 844.6,243 M833,232 C829,238 827,246 828.4,252 C830,257 834,261 838.6,263.4 L841.4,266.6 M838,246 C838.6,252 841,257 844.6,260.4 L847.6,262.4 M841.4,266.6 C842.6,268.6 845,269 846.4,267.6 C848.4,268.4 850,266.8 849.6,264.8 C850.4,263 849,261.6 847.6,262.4 M843,265 L845.6,263.6 M845,267 L847.4,265.4 M829.6,262.6 C831,266 833.6,268 836.4,268.2 C838,268 838.6,266.4 837.6,265 L834.6,261.6 M817.6,249 C822,254 828,257 834.6,257.6 M820,252.6 C823,257.6 826.6,261 829.6,262.6 M813.4,255.8 C814.4,262 816.4,268 818.6,274 C820.4,278 821.4,280.6 821,283.6 C819,295 816,307 813.6,319 L812.2,323.6 M836.6,268.4 C836,277 835.6,286 835.8,295 C836,303 836.6,311 837,319.4 M826,270 C826.6,280 826,290 825,300 C824.4,307 823.6,313 823,319.6 M830,272 C829.6,284 828.6,296 827.6,308 L826.6,320 M818,262 L819.6,268 M821,284 C820.6,290 819.6,296 818.4,302 M832.6,290 L832.4,300 M833.6,276 L833.4,284 M812.2,323.6 C812,325.4 813.6,326.4 816,326.4 L826.6,326.2 C828.6,326 829,324.4 827.6,323.2 L823,319.6 M826.6,320 C830,321 834,322.4 838.6,322.6 C841.6,322.8 842.6,324.6 841,325.6 L829,326 M837,319.4 L838.6,322.6" transform="translate(0.45,0.3)" opacity="0.45"/>
<path d="M886.2,212 C885.6,207 888.6,203.2 893.2,203 C898,203 900.8,206.6 900.4,211.6 C901.2,213.6 900.8,216.6 899.6,218 C899.6,222 897.6,226 893.4,228 C889.4,226.4 887,222.6 886.8,218.4 C885.6,217 885.4,214 886.2,212Z M886.6,210 L888.6,206 M888,210.4 L890,205 M889.6,209.6 L891.8,204 M891.6,209 L893.6,203.6 M893.4,209 L895.4,203.8 M895.4,209.4 L897.4,204.6 M897.2,210 L899,206 M898.8,211 L900,208 M887,207.6 L899.6,207 M888.6,205.4 L898,205 M888.6,213 L891.4,212.6 M895,212.6 L898,213 M889.4,214.6 L891,214.6 M895.6,214.6 L897.2,214.6 M893.2,214 L892.8,218.6 L894.2,218.8 M890.4,221 C892,220 894.6,220 896.4,221 M890,222 C892,224.6 895,224.6 896.8,222 M891,223 L891.6,226 M893.4,223.6 L893.4,227 M895.6,223 L895,226 M890.6,221.4 L889.6,224 M896.2,221.4 L897.4,224 M887.4,224.4 C883,225 879,226 877,228.6 C874.6,234 873,240 872,246 C871.4,249.6 872.6,252 874.6,254 L880,257.6 M899.4,224.4 C903.6,225 907.6,226 909.4,228.6 C912.6,233.6 915.4,238.6 916.6,244 C917.2,249 915.6,253.6 913.6,257 L909.6,260 M879.6,232 C878.6,238 878.6,244 880.6,249.6 L884.6,254 M907,232 C908.4,238 909,243 908,248 L905.6,253.6 M886.6,226 C888,233 890,240 893,246 C896,240 898.6,233 900,226 M882.4,228 C881.6,236 882,244 883.6,251.6 M904.6,228 C905.4,236 905,244 903.6,251.6 M883.6,251.6 C887,253.6 890,252.6 893,250.6 C896,252.6 900,253.6 903.6,251.6 M893,246 L893,250.6 M889.6,229 L891.6,240 M896.8,229 L895,240 M884.6,233 L885.4,245 M901.8,233 L901.4,245 M891.6,244 L894.4,244 M880,257.6 C881.6,259.6 884,260 885.6,258.6 C887.6,259.6 889.6,258.6 889.6,256.6 C890.6,255 889.4,253.4 887.6,254 L884.6,254 M882.6,256.6 L885.4,255.8 M885,258.4 L887.6,256.8 M909.6,260 C907.6,262 904.6,262 903.4,260 C901.4,260.4 900,258.6 901,256.8 C900.6,255 902.4,254 903.6,255 L905.6,253.6 M903.6,258 L906.4,257 M905,260.6 L907.6,259 M893.6,256 C896,258 898.6,258.6 901,258 M890,258 C892,260 894.6,260.6 897,260 M880.4,258.6 C879.6,268 880,278 880.6,288 C881,298 881,308 881,319.6 M910,261 C908.6,272 906.6,282 905,292 C903.6,301 902.6,310 902.2,319.6 M894.4,271.6 C892.6,282 891.6,293 891,304 L890.4,319.6 M894.4,271.6 C894.6,282 894,293 893.6,304 L893,319.6 M886,262 L894.4,271.6 L903,263 M885,270 C885.6,282 885.6,294 885.4,306 M899,272 C898.4,284 897.6,296 897,308 M888.6,290 L888.2,302 M901.6,284 L900.4,298 M881,319.6 C878.6,321.6 877,324 877.6,326 C880,327.6 886,327.6 889,326.6 C890.4,324.6 890.6,322 890.4,319.6 M893,319.6 C892.6,322 892.6,324.6 893.6,326.6 C897,327.8 902.6,327.6 904.8,326 C905.2,323.6 904,321.4 902.2,319.6 M879,324.6 L889,324.4 M894,324.8 L904,324.4"/>
<path d="M886.2,212 C885.6,207 888.6,203.2 893.2,203 C898,203 900.8,206.6 900.4,211.6 C901.2,213.6 900.8,216.6 899.6,218 C899.6,222 897.6,226 893.4,228 C889.4,226.4 887,222.6 886.8,218.4 C885.6,217 885.4,214 886.2,212Z M886.6,210 L888.6,206 M888,210.4 L890,205 M889.6,209.6 L891.8,204 M891.6,209 L893.6,203.6 M893.4,209 L895.4,203.8 M895.4,209.4 L897.4,204.6 M897.2,210 L899,206 M898.8,211 L900,208 M887,207.6 L899.6,207 M888.6,205.4 L898,205 M888.6,213 L891.4,212.6 M895,212.6 L898,213 M889.4,214.6 L891,214.6 M895.6,214.6 L897.2,214.6 M893.2,214 L892.8,218.6 L894.2,218.8 M890.4,221 C892,220 894.6,220 896.4,221 M890,222 C892,224.6 895,224.6 896.8,222 M891,223 L891.6,226 M893.4,223.6 L893.4,227 M895.6,223 L895,226 M890.6,221.4 L889.6,224 M896.2,221.4 L897.4,224 M887.4,224.4 C883,225 879,226 877,228.6 C874.6,234 873,240 872,246 C871.4,249.6 872.6,252 874.6,254 L880,257.6 M899.4,224.4 C903.6,225 907.6,226 909.4,228.6 C912.6,233.6 915.4,238.6 916.6,244 C917.2,249 915.6,253.6 913.6,257 L909.6,260 M879.6,232 C878.6,238 878.6,244 880.6,249.6 L884.6,254 M907,232 C908.4,238 909,243 908,248 L905.6,253.6 M886.6,226 C888,233 890,240 893,246 C896,240 898.6,233 900,226 M882.4,228 C881.6,236 882,244 883.6,251.6 M904.6,228 C905.4,236 905,244 903.6,251.6 M883.6,251.6 C887,253.6 890,252.6 893,250.6 C896,252.6 900,253.6 903.6,251.6 M893,246 L893,250.6 M889.6,229 L891.6,240 M896.8,229 L895,240 M884.6,233 L885.4,245 M901.8,233 L901.4,245 M891.6,244 L894.4,244 M880,257.6 C881.6,259.6 884,260 885.6,258.6 C887.6,259.6 889.6,258.6 889.6,256.6 C890.6,255 889.4,253.4 887.6,254 L884.6,254 M882.6,256.6 L885.4,255.8 M885,258.4 L887.6,256.8 M909.6,260 C907.6,262 904.6,262 903.4,260 C901.4,260.4 900,258.6 901,256.8 C900.6,255 902.4,254 903.6,255 L905.6,253.6 M903.6,258 L906.4,257 M905,260.6 L907.6,259 M893.6,256 C896,258 898.6,258.6 901,258 M890,258 C892,260 894.6,260.6 897,260 M880.4,258.6 C879.6,268 880,278 880.6,288 C881,298 881,308 881,319.6 M910,261 C908.6,272 906.6,282 905,292 C903.6,301 902.6,310 902.2,319.6 M894.4,271.6 C892.6,282 891.6,293 891,304 L890.4,319.6 M894.4,271.6 C894.6,282 894,293 893.6,304 L893,319.6 M886,262 L894.4,271.6 L903,263 M885,270 C885.6,282 885.6,294 885.4,306 M899,272 C898.4,284 897.6,296 897,308 M888.6,290 L888.2,302 M901.6,284 L900.4,298 M881,319.6 C878.6,321.6 877,324 877.6,326 C880,327.6 886,327.6 889,326.6 C890.4,324.6 890.6,322 890.4,319.6 M893,319.6 C892.6,322 892.6,324.6 893.6,326.6 C897,327.8 902.6,327.6 904.8,326 C905.2,323.6 904,321.4 902.2,319.6 M879,324.6 L889,324.4 M894,324.8 L904,324.4" transform="translate(0.45,0.3)" opacity="0.45"/>
<path d="M805.0,320.5 L847.7,320.2 M808.9,321.8 L853.4,321.8 M805.2,323.8 L851.4,323.0 M802.6,325.1 L854.2,324.3 M802.6,326.5 L854.2,326.1 M809.3,328.1 L853.4,327.5 M805.6,329.6 L853.8,328.9 M876.6,320.9 L915.8,320.6 M873.3,322.1 L916.7,321.9 M878.2,323.2 L925.1,322.8 M869.4,324.9 L926.3,324.2 M869.4,326.0 L926.3,325.7 M875.2,327.6 L915.4,327.2 M878.0,328.9 L914.4,328.1 " stroke-width="0.5" opacity="0.8"/>
<path d="M886.4,211 C886,206.6 889,203 893.2,203 C897.8,203 900.8,206.6 900.4,211 C898,208.6 889,208.4 886.4,211Z" fill="#2a2a2a" stroke="none" opacity="0.75"/>
<path d="M890,221.4 C892,220.4 894.6,220.4 896.6,221.4 C897.4,224 896,227 893.4,227.8 C890.8,227 889.4,224 890,221.4Z" fill="#2a2a2a" stroke="none" opacity="0.6"/>
<path d="M850.4,208.8 C853.4,205.6 858.6,205.8 861.2,208.8 C858.6,209.6 856,211 854.4,214 C853.4,216 851.4,218.4 849.8,219.4 C848.6,216 848.6,211.6 850.4,208.8Z" fill="#2a2a2a" stroke="none" opacity="0.7"/>
</g>
<!-- PUZZLE HEAD -->
<g id="puzzle" filter="url(#b03)">
<path d="M845.0,370.2C842.8,370.4 840.1,370.4 838.0,371.5C835.9,372.6 834.0,374.6 832.5,376.5C831.0,378.4 829.7,381.3 829.0,383.0C828.3,384.7 828.7,385.2 828.4,386.5C828.1,387.8 827.6,389.4 827.4,391.0C827.2,392.6 827.4,394.4 827.0,396.0C826.6,397.6 825.7,399.0 825.0,400.5C824.3,402.0 823.2,404.4 822.8,405.2C823.1,405.6 824.3,406.9 824.8,407.6C825.2,408.4 825.3,408.6 825.5,409.7C825.7,410.8 825.7,412.9 825.8,414.2C825.9,415.5 825.9,416.4 826.2,417.5C826.5,418.6 826.9,420.0 827.8,421.0C828.7,422.0 829.9,423.0 831.6,423.5C833.3,424.0 836.1,424.0 838.0,424.2C839.9,424.4 841.9,423.0 842.7,424.8C843.5,426.6 842.9,433.5 842.9,435.2C846.5,435.2 861.1,435.2 864.7,435.2C864.7,432.7 864.3,423.9 864.7,420.2C865.1,416.5 866.0,415.4 867.0,413.0C868.0,410.6 869.5,408.1 870.5,406.0C871.5,403.9 872.4,402.5 873.0,400.7C873.6,398.9 874.1,396.8 874.2,395.0C874.3,393.2 874.2,392.0 873.7,390.0C873.2,388.0 872.8,385.2 871.5,383.0C870.2,380.8 868.5,378.5 866.2,376.6C864.0,374.7 860.5,372.9 858.0,371.8C855.5,370.7 853.2,370.3 851.0,370.0C848.8,369.7 847.2,369.9 845.0,370.2Z" fill="#0b0b0b"/>
<clipPath id="hc"><path d="M845.0,370.2C842.8,370.4 840.1,370.4 838.0,371.5C835.9,372.6 834.0,374.6 832.5,376.5C831.0,378.4 829.7,381.3 829.0,383.0C828.3,384.7 828.7,385.2 828.4,386.5C828.1,387.8 827.6,389.4 827.4,391.0C827.2,392.6 827.4,394.4 827.0,396.0C826.6,397.6 825.7,399.0 825.0,400.5C824.3,402.0 823.2,404.4 822.8,405.2C823.1,405.6 824.3,406.9 824.8,407.6C825.2,408.4 825.3,408.6 825.5,409.7C825.7,410.8 825.7,412.9 825.8,414.2C825.9,415.5 825.9,416.4 826.2,417.5C826.5,418.6 826.9,420.0 827.8,421.0C828.7,422.0 829.9,423.0 831.6,423.5C833.3,424.0 836.1,424.0 838.0,424.2C839.9,424.4 841.9,423.0 842.7,424.8C843.5,426.6 842.9,433.5 842.9,435.2C846.5,435.2 861.1,435.2 864.7,435.2C864.7,432.7 864.3,423.9 864.7,420.2C865.1,416.5 866.0,415.4 867.0,413.0C868.0,410.6 869.5,408.1 870.5,406.0C871.5,403.9 872.4,402.5 873.0,400.7C873.6,398.9 874.1,396.8 874.2,395.0C874.3,393.2 874.2,392.0 873.7,390.0C873.2,388.0 872.8,385.2 871.5,383.0C870.2,380.8 868.5,378.5 866.2,376.6C864.0,374.7 860.5,372.9 858.0,371.8C855.5,370.7 853.2,370.3 851.0,370.0C848.8,369.7 847.2,369.9 845.0,370.2Z"/></clipPath>
<g clip-path="url(#hc)">
<path d="M831.5,366 V438 M839.5,366 V438 M847.5,366 V438 M855.5,366 V438 M863.5,366 V438 M871.5,366 V438 M818,376.5 H878 M818,384.5 H878 M818,392.5 H878 M818,400.5 H878 M818,408.5 H878 M818,416.5 H878 M818,424.5 H878 M818,432.5 H878 " stroke="#fff" stroke-width="0.4" fill="none" opacity="0.55"/>
<circle cx="830.5" cy="380.5" r="1.2" fill="#0b0b0b" stroke="#fff" stroke-width="0.35" opacity="0.55"/><circle cx="835.5" cy="377.5" r="1.2" fill="#0b0b0b" stroke="#fff" stroke-width="0.35" opacity="0.55"/><circle cx="832.5" cy="388.5" r="1.2" fill="#0b0b0b" stroke="#fff" stroke-width="0.35" opacity="0.55"/><circle cx="835.5" cy="383.5" r="1.2" fill="#0b0b0b" stroke="#fff" stroke-width="0.35" opacity="0.55"/><circle cx="830.5" cy="396.5" r="1.2" fill="#0b0b0b" stroke="#fff" stroke-width="0.35" opacity="0.55"/><circle cx="835.5" cy="393.5" r="1.2" fill="#0b0b0b" stroke="#fff" stroke-width="0.35" opacity="0.55"/><circle cx="832.5" cy="404.5" r="1.2" fill="#0b0b0b" stroke="#fff" stroke-width="0.35" opacity="0.55"/><circle cx="835.5" cy="399.5" r="1.2" fill="#0b0b0b" stroke="#fff" stroke-width="0.35" opacity="0.55"/><circle cx="830.5" cy="412.5" r="1.2" fill="#0b0b0b" stroke="#fff" stroke-width="0.35" opacity="0.55"/><circle cx="835.5" cy="409.5" r="1.2" fill="#0b0b0b" stroke="#fff" stroke-width="0.35" opacity="0.55"/><circle cx="832.5" cy="420.5" r="1.2" fill="#0b0b0b" stroke="#fff" stroke-width="0.35" opacity="0.55"/><circle cx="835.5" cy="415.5" r="1.2" fill="#0b0b0b" stroke="#fff" stroke-width="0.35" opacity="0.55"/><circle cx="830.5" cy="428.5" r="1.2" fill="#0b0b0b" stroke="#fff" stroke-width="0.35" opacity="0.55"/><circle cx="835.5" cy="425.5" r="1.2" fill="#0b0b0b" stroke="#fff" stroke-width="0.35" opacity="0.55"/><circle cx="832.5" cy="436.5" r="1.2" fill="#0b0b0b" stroke="#fff" stroke-width="0.35" opacity="0.55"/><circle cx="835.5" cy="431.5" r="1.2" fill="#0b0b0b" stroke="#fff" stroke-width="0.35" opacity="0.55"/><circle cx="840.5" cy="380.5" r="1.2" fill="#0b0b0b" stroke="#fff" stroke-width="0.35" opacity="0.55"/><circle cx="843.5" cy="375.5" r="1.2" fill="#0b0b0b" stroke="#fff" stroke-width="0.35" opacity="0.55"/><circle cx="838.5" cy="388.5" r="1.2" fill="#0b0b0b" stroke="#fff" stroke-width="0.35" opacity="0.55"/><circle cx="843.5" cy="385.5" r="1.2" fill="#0b0b0b" stroke="#fff" stroke-width="0.35" opacity="0.55"/><circle cx="840.5" cy="396.5" r="1.2" fill="#0b0b0b" stroke="#fff" stroke-width="0.35" opacity="0.55"/><circle cx="843.5" cy="391.5" r="1.2" fill="#0b0b0b" stroke="#fff" stroke-width="0.35" opacity="0.55"/><circle cx="838.5" cy="404.5" r="1.2" fill="#0b0b0b" stroke="#fff" stroke-width="0.35" opacity="0.55"/><circle cx="843.5" cy="401.5" r="1.2" fill="#0b0b0b" stroke="#fff" stroke-width="0.35" opacity="0.55"/><circle cx="840.5" cy="412.5" r="1.2" fill="#0b0b0b" stroke="#fff" stroke-width="0.35" opacity="0.55"/><circle cx="843.5" cy="407.5" r="1.2" fill="#0b0b0b" stroke="#fff" stroke-width="0.35" opacity="0.55"/><circle cx="838.5" cy="420.5" r="1.2" fill="#0b0b0b" stroke="#fff" stroke-width="0.35" opacity="0.55"/><circle cx="843.5" cy="417.5" r="1.2" fill="#0b0b0b" stroke="#fff" stroke-width="0.35" opacity="0.55"/><circle cx="840.5" cy="428.5" r="1.2" fill="#0b0b0b" stroke="#fff" stroke-width="0.35" opacity="0.55"/><circle cx="843.5" cy="423.5" r="1.2" fill="#0b0b0b" stroke="#fff" stroke-width="0.35" opacity="0.55"/><circle cx="838.5" cy="436.5" r="1.2" fill="#0b0b0b" stroke="#fff" stroke-width="0.35" opacity="0.55"/><circle cx="843.5" cy="433.5" r="1.2" fill="#0b0b0b" stroke="#fff" stroke-width="0.35" opacity="0.55"/><circle cx="846.5" cy="380.5" r="1.2" fill="#0b0b0b" stroke="#fff" stroke-width="0.35" opacity="0.55"/><circle cx="851.5" cy="377.5" r="1.2" fill="#0b0b0b" stroke="#fff" stroke-width="0.35" opacity="0.55"/><circle cx="848.5" cy="388.5" r="1.2" fill="#0b0b0b" stroke="#fff" stroke-width="0.35" opacity="0.55"/><circle cx="851.5" cy="383.5" r="1.2" fill="#0b0b0b" stroke="#fff" stroke-width="0.35" opacity="0.55"/><circle cx="846.5" cy="396.5" r="1.2" fill="#0b0b0b" stroke="#fff" stroke-width="0.35" opacity="0.55"/><circle cx="851.5" cy="393.5" r="1.2" fill="#0b0b0b" stroke="#fff" stroke-width="0.35" opacity="0.55"/><circle cx="848.5" cy="404.5" r="1.2" fill="#0b0b0b" stroke="#fff" stroke-width="0.35" opacity="0.55"/><circle cx="851.5" cy="399.5" r="1.2" fill="#0b0b0b" stroke="#fff" stroke-width="0.35" opacity="0.55"/><circle cx="846.5" cy="412.5" r="1.2" fill="#0b0b0b" stroke="#fff" stroke-width="0.35" opacity="0.55"/><circle cx="851.5" cy="409.5" r="1.2" fill="#0b0b0b" stroke="#fff" stroke-width="0.35" opacity="0.55"/><circle cx="848.5" cy="420.5" r="1.2" fill="#0b0b0b" stroke="#fff" stroke-width="0.35" opacity="0.55"/><circle cx="851.5" cy="415.5" r="1.2" fill="#0b0b0b" stroke="#fff" stroke-width="0.35" opacity="0.55"/><circle cx="846.5" cy="428.5" r="1.2" fill="#0b0b0b" stroke="#fff" stroke-width="0.35" opacity="0.55"/><circle cx="851.5" cy="425.5" r="1.2" fill="#0b0b0b" stroke="#fff" stroke-width="0.35" opacity="0.55"/><circle cx="848.5" cy="436.5" r="1.2" fill="#0b0b0b" stroke="#fff" stroke-width="0.35" opacity="0.55"/><circle cx="851.5" cy="431.5" r="1.2" fill="#0b0b0b" stroke="#fff" stroke-width="0.35" opacity="0.55"/><circle cx="856.5" cy="380.5" r="1.2" fill="#0b0b0b" stroke="#fff" stroke-width="0.35" opacity="0.55"/><circle cx="859.5" cy="375.5" r="1.2" fill="#0b0b0b" stroke="#fff" stroke-width="0.35" opacity="0.55"/><circle cx="854.5" cy="388.5" r="1.2" fill="#0b0b0b" stroke="#fff" stroke-width="0.35" opacity="0.55"/><circle cx="859.5" cy="385.5" r="1.2" fill="#0b0b0b" stroke="#fff" stroke-width="0.35" opacity="0.55"/><circle cx="856.5" cy="396.5" r="1.2" fill="#0b0b0b" stroke="#fff" stroke-width="0.35" opacity="0.55"/><circle cx="859.5" cy="391.5" r="1.2" fill="#0b0b0b" stroke="#fff" stroke-width="0.35" opacity="0.55"/><circle cx="854.5" cy="404.5" r="1.2" fill="#0b0b0b" stroke="#fff" stroke-width="0.35" opacity="0.55"/><circle cx="859.5" cy="401.5" r="1.2" fill="#0b0b0b" stroke="#fff" stroke-width="0.35" opacity="0.55"/><circle cx="856.5" cy="412.5" r="1.2" fill="#0b0b0b" stroke="#fff" stroke-width="0.35" opacity="0.55"/><circle cx="859.5" cy="407.5" r="1.2" fill="#0b0b0b" stroke="#fff" stroke-width="0.35" opacity="0.55"/><circle cx="854.5" cy="420.5" r="1.2" fill="#0b0b0b" stroke="#fff" stroke-width="0.35" opacity="0.55"/><circle cx="859.5" cy="417.5" r="1.2" fill="#0b0b0b" stroke="#fff" stroke-width="0.35" opacity="0.55"/><circle cx="856.5" cy="428.5" r="1.2" fill="#0b0b0b" stroke="#fff" stroke-width="0.35" opacity="0.55"/><circle cx="859.5" cy="423.5" r="1.2" fill="#0b0b0b" stroke="#fff" stroke-width="0.35" opacity="0.55"/><circle cx="854.5" cy="436.5" r="1.2" fill="#0b0b0b" stroke="#fff" stroke-width="0.35" opacity="0.55"/><circle cx="859.5" cy="433.5" r="1.2" fill="#0b0b0b" stroke="#fff" stroke-width="0.35" opacity="0.55"/><circle cx="862.5" cy="380.5" r="1.2" fill="#0b0b0b" stroke="#fff" stroke-width="0.35" opacity="0.55"/><circle cx="867.5" cy="377.5" r="1.2" fill="#0b0b0b" stroke="#fff" stroke-width="0.35" opacity="0.55"/><circle cx="864.5" cy="388.5" r="1.2" fill="#0b0b0b" stroke="#fff" stroke-width="0.35" opacity="0.55"/><circle cx="867.5" cy="383.5" r="1.2" fill="#0b0b0b" stroke="#fff" stroke-width="0.35" opacity="0.55"/><circle cx="862.5" cy="396.5" r="1.2" fill="#0b0b0b" stroke="#fff" stroke-width="0.35" opacity="0.55"/><circle cx="867.5" cy="393.5" r="1.2" fill="#0b0b0b" stroke="#fff" stroke-width="0.35" opacity="0.55"/><circle cx="864.5" cy="404.5" r="1.2" fill="#0b0b0b" stroke="#fff" stroke-width="0.35" opacity="0.55"/><circle cx="867.5" cy="399.5" r="1.2" fill="#0b0b0b" stroke="#fff" stroke-width="0.35" opacity="0.55"/><circle cx="862.5" cy="412.5" r="1.2" fill="#0b0b0b" stroke="#fff" stroke-width="0.35" opacity="0.55"/><circle cx="867.5" cy="409.5" r="1.2" fill="#0b0b0b" stroke="#fff" stroke-width="0.35" opacity="0.55"/><circle cx="864.5" cy="420.5" r="1.2" fill="#0b0b0b" stroke="#fff" stroke-width="0.35" opacity="0.55"/><circle cx="867.5" cy="415.5" r="1.2" fill="#0b0b0b" stroke="#fff" stroke-width="0.35" opacity="0.55"/><circle cx="862.5" cy="428.5" r="1.2" fill="#0b0b0b" stroke="#fff" stroke-width="0.35" opacity="0.55"/><circle cx="867.5" cy="425.5" r="1.2" fill="#0b0b0b" stroke="#fff" stroke-width="0.35" opacity="0.55"/><circle cx="864.5" cy="436.5" r="1.2" fill="#0b0b0b" stroke="#fff" stroke-width="0.35" opacity="0.55"/><circle cx="867.5" cy="431.5" r="1.2" fill="#0b0b0b" stroke="#fff" stroke-width="0.35" opacity="0.55"/><circle cx="872.5" cy="380.5" r="1.2" fill="#0b0b0b" stroke="#fff" stroke-width="0.35" opacity="0.55"/><circle cx="875.5" cy="375.5" r="1.2" fill="#0b0b0b" stroke="#fff" stroke-width="0.35" opacity="0.55"/><circle cx="870.5" cy="388.5" r="1.2" fill="#0b0b0b" stroke="#fff" stroke-width="0.35" opacity="0.55"/><circle cx="875.5" cy="385.5" r="1.2" fill="#0b0b0b" stroke="#fff" stroke-width="0.35" opacity="0.55"/><circle cx="872.5" cy="396.5" r="1.2" fill="#0b0b0b" stroke="#fff" stroke-width="0.35" opacity="0.55"/><circle cx="875.5" cy="391.5" r="1.2" fill="#0b0b0b" stroke="#fff" stroke-width="0.35" opacity="0.55"/><circle cx="870.5" cy="404.5" r="1.2" fill="#0b0b0b" stroke="#fff" stroke-width="0.35" opacity="0.55"/><circle cx="875.5" cy="401.5" r="1.2" fill="#0b0b0b" stroke="#fff" stroke-width="0.35" opacity="0.55"/><circle cx="872.5" cy="412.5" r="1.2" fill="#0b0b0b" stroke="#fff" stroke-width="0.35" opacity="0.55"/><circle cx="875.5" cy="407.5" r="1.2" fill="#0b0b0b" stroke="#fff" stroke-width="0.35" opacity="0.55"/><circle cx="870.5" cy="420.5" r="1.2" fill="#0b0b0b" stroke="#fff" stroke-width="0.35" opacity="0.55"/><circle cx="875.5" cy="417.5" r="1.2" fill="#0b0b0b" stroke="#fff" stroke-width="0.35" opacity="0.55"/><circle cx="872.5" cy="428.5" r="1.2" fill="#0b0b0b" stroke="#fff" stroke-width="0.35" opacity="0.55"/><circle cx="875.5" cy="423.5" r="1.2" fill="#0b0b0b" stroke="#fff" stroke-width="0.35" opacity="0.55"/><circle cx="870.5" cy="436.5" r="1.2" fill="#0b0b0b" stroke="#fff" stroke-width="0.35" opacity="0.55"/><circle cx="875.5" cy="433.5" r="1.2" fill="#0b0b0b" stroke="#fff" stroke-width="0.35" opacity="0.55"/>
<rect x="839.5" y="377.5" width="11.5" height="11.5" fill="#fff"/><circle cx="838.4" cy="383.4" r="1.9" fill="#fff"/><circle cx="845" cy="390.4" r="1.9" fill="#fff"/><circle cx="845.2" cy="379" r="1.7" fill="#0b0b0b"/>
<rect x="862" y="366" width="16" height="22" fill="#fff"/><rect x="860.5" y="387" width="18" height="21.5" fill="#fff"/><rect x="850.6" y="374" width="12" height="1.4" fill="#fff"/><rect x="850.6" y="388" width="12" height="1.3" fill="#fff"/><rect x="850.6" y="374" width="1.3" height="15" fill="#fff"/>
<circle cx="859.6" cy="397.5" r="1.9" fill="#fff"/><circle cx="866" cy="409.6" r="1.9" fill="#fff"/>
<circle cx="863" cy="381.6" r="1.9" fill="#0b0b0b"/><circle cx="851.4" cy="382" r="1.7" fill="#0b0b0b"/><circle cx="856.6" cy="374.6" r="1.7" fill="#0b0b0b"/>
<rect x="864" y="388.6" width="9.6" height="9.6" fill="#0b0b0b"/><circle cx="868.8" cy="387.6" r="1.8" fill="#0b0b0b"/><circle cx="863" cy="393.4" r="1.8" fill="#0b0b0b"/><circle cx="868.8" cy="396.8" r="1.6" fill="#fff"/>
<path d="M864.5,372 L868,375 L871.5,380 L873,386 L869,386 L869,381 L864.5,380Z" fill="#0b0b0b"/><circle cx="866.6" cy="381" r="1.6" fill="#0b0b0b"/>
<rect x="861.5" y="400" width="5" height="6.5" fill="#0b0b0b"/><circle cx="867.2" cy="403.2" r="1.5" fill="#0b0b0b"/>
</g>
<path d="M-3.9,-3.9 H-1.0 C-2.0,-6.3 2.0,-6.3 1.0,-3.9 H3.9 V-1.0 C6.3,-2.0 6.3,2.0 3.9,1.0 V3.9 H1.0 C1.9,1.7 -1.9,1.7 -1.0,3.9 H-3.9 V1.0 C-6.3,2.0 -6.3,-2.0 -3.9,-1.0Z" transform="translate(873.3,342.8) rotate(180) scale(1.22)" fill="#7cc344"/>
<path d="M887.4,339.4 H890.6 V346.6 H887.4 V344.4 C885,345.4 885,340.8 887.4,341.6Z" fill="#b13bb4"/>
<path d="M-3.9,-3.9 H-1.0 C-2.0,-6.3 2.0,-6.3 1.0,-3.9 H3.9 V-1.0 C6.3,-2.0 6.3,2.0 3.9,1.0 V3.9 H1.0 C1.9,1.7 -1.9,1.7 -1.0,3.9 H-3.9 V1.0 C-6.3,2.0 -6.3,-2.0 -3.9,-1.0Z" transform="translate(903.2,341.2) rotate(90) scale(1.12)" fill="#f2d936"/>
<path d="M-3.9,-3.9 H-1.0 C-2.0,-6.3 2.0,-6.3 1.0,-3.9 H3.9 V-1.0 C6.3,-2.0 6.3,2.0 3.9,1.0 V3.9 H1.0 C1.9,1.7 -1.9,1.7 -1.0,3.9 H-3.9 V1.0 C-6.3,2.0 -6.3,-2.0 -3.9,-1.0Z" transform="translate(865.3,361.4) rotate(125) scale(1.12)" fill="#d9232b"/>
<path d="M-3.9,-3.9 H-1.0 C-2.0,-6.3 2.0,-6.3 1.0,-3.9 H3.9 V-1.0 C6.3,-2.0 6.3,2.0 3.9,1.0 V3.9 H1.0 C1.9,1.7 -1.9,1.7 -1.0,3.9 H-3.9 V1.0 C-6.3,2.0 -6.3,-2.0 -3.9,-1.0Z" transform="translate(886.7,365.6) rotate(20) scale(1.2)" fill="#5cc4d9"/>
<path d="M-3.9,-3.9 H-1.0 C-2.0,-6.3 2.0,-6.3 1.0,-3.9 H3.9 V-1.0 C6.3,-2.0 6.3,2.0 3.9,1.0 V3.9 H1.0 C1.9,1.7 -1.9,1.7 -1.0,3.9 H-3.9 V1.0 C-6.3,2.0 -6.3,-2.0 -3.9,-1.0Z" transform="translate(883.4,383) rotate(-20) scale(1.2)" fill="#c3262b"/>
</g>
</svg>
</body></html>
